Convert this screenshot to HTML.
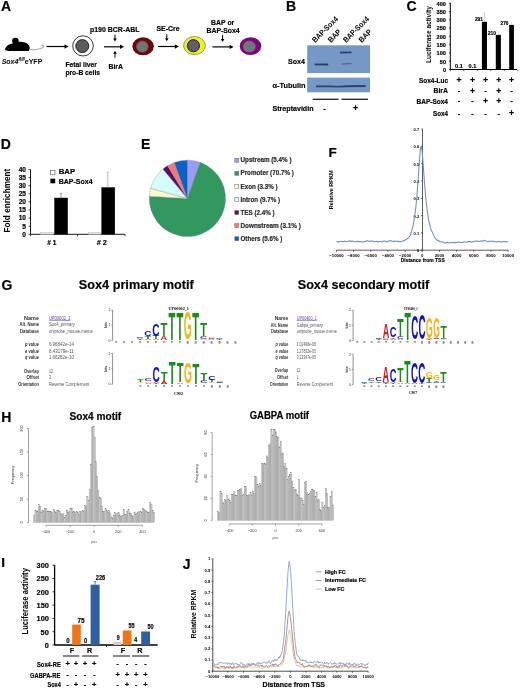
<!DOCTYPE html>
<html><head><meta charset="utf-8"><title>Figure</title>
<style>html,body{margin:0;padding:0;background:#fff;} svg{display:block;filter:blur(0.3px);} text{font-family:"Liberation Sans", sans-serif;}</style>
</head><body>
<svg width="520" height="689" viewBox="0 0 520 689">
<defs><filter id="bb" x="-10%" y="-50%" width="120%" height="200%"><feGaussianBlur stdDeviation="0.35"/></filter><radialGradient id="pg"><stop offset="0" stop-color="#5a7e72"/><stop offset="0.7" stop-color="#6a7a74"/><stop offset="1" stop-color="#9a6a9a"/></radialGradient></defs>
<rect x="0" y="0" width="520" height="689" fill="#fff"/>
<text x="1" y="11" font-size="14" font-weight="bold" fill="#000" stroke="#000" stroke-width="0.18" text-anchor="start">A</text>
<path d="M5,49.3 C5.8,46.6 8.8,44.2 12.3,43.6 C14.8,42.2 18.8,41.6 22.5,41.9 C27,42.3 29.8,45 29.8,48.2 C29.8,50.2 28.8,51 27,51 L9,51 C7,51 5.2,50.6 5,49.3 Z" fill="#000" stroke="none" stroke-width="1"/>
<ellipse cx="15.4" cy="40.9" rx="3.3" ry="3.1" fill="#000"/>
<circle cx="8.6" cy="48.2" r="0.45" fill="#777"/>
<path d="M29.3,49.4 C33,50.2 37.5,49.6 40.5,48.6 C42.8,47.8 44.2,46.8 43.6,45.6 C43,44.6 41.6,45 41.8,46" fill="none" stroke="#b0b0b0" stroke-width="1.1"/>
<text x="1.7" y="64" font-size="7.8" fill="#000" textLength="40.6" lengthAdjust="spacingAndGlyphs"><tspan font-weight="bold" font-style="italic">Sox4</tspan><tspan font-size="4.8" dy="-3.3" font-weight="bold" font-style="italic">fl/fl</tspan><tspan dy="3.3" font-weight="bold">eYFP</tspan></text>
<line x1="46.5" y1="46.5" x2="65.5" y2="46.5" stroke="#000" stroke-width="1.2"/>
<path d="M64.5,44.3 L68.5,46.5 L64.5,48.7 Z" fill="#000" stroke="none" stroke-width="1"/>
<ellipse cx="83" cy="45.9" rx="10.3" ry="10.1" fill="#fff" stroke="#222" stroke-width="0.9"/>
<ellipse cx="82.3" cy="46.1" rx="6.5" ry="6.5" fill="#5c5c5c" stroke="#1a1a1a" stroke-width="0.9"/>
<text x="65.4" y="67" font-size="7.8" font-weight="bold" fill="#000" stroke="#000" stroke-width="0.18" text-anchor="start" textLength="31.5" lengthAdjust="spacingAndGlyphs">Fetal liver</text>
<text x="65.4" y="75" font-size="7.8" font-weight="bold" fill="#000" stroke="#000" stroke-width="0.18" text-anchor="start" textLength="34.6" lengthAdjust="spacingAndGlyphs">pro-B cells</text>
<line x1="104" y1="46.8" x2="121" y2="46.8" stroke="#000" stroke-width="1.2"/>
<path d="M120,44.599999999999994 L124,46.8 L120,49.0 Z" fill="#000" stroke="none" stroke-width="1"/>
<text x="90" y="32.3" font-size="7.8" font-weight="bold" fill="#000" stroke="#000" stroke-width="0.18" text-anchor="start" textLength="49.5" lengthAdjust="spacingAndGlyphs">p190 BCR-ABL</text>
<line x1="115" y1="34.6" x2="115" y2="39.0" stroke="#000" stroke-width="1"/>
<path d="M113.2,38.5 L115,41.5 L116.8,38.5 Z" fill="#000" stroke="none" stroke-width="1"/>
<line x1="115" y1="57.7" x2="115" y2="53.3" stroke="#000" stroke-width="1"/>
<path d="M113.2,53.8 L115,50.8 L116.8,53.8 Z" fill="#000" stroke="none" stroke-width="1"/>
<text x="108.5" y="69" font-size="7.8" font-weight="bold" fill="#000" stroke="#000" stroke-width="0.18" text-anchor="start" textLength="14.5" lengthAdjust="spacingAndGlyphs">BirA</text>
<ellipse cx="143.1" cy="46.3" rx="10.75" ry="9" fill="#6a0808"/>
<ellipse cx="142.3" cy="46.6" rx="5.8" ry="5.6" fill="#6f7575" stroke="#8a5a5a" stroke-width="0.6"/>
<text x="156.5" y="31.2" font-size="7.8" font-weight="bold" fill="#000" stroke="#000" stroke-width="0.18" text-anchor="start" textLength="23.1" lengthAdjust="spacingAndGlyphs">SE-Cre</text>
<line x1="166.8" y1="34.2" x2="166.8" y2="38.7" stroke="#000" stroke-width="1"/>
<path d="M165.0,38.2 L166.8,41.2 L168.60000000000002,38.2 Z" fill="#000" stroke="none" stroke-width="1"/>
<line x1="158" y1="46.5" x2="175.8" y2="46.5" stroke="#000" stroke-width="1.2"/>
<path d="M174.8,44.3 L178.8,46.5 L174.8,48.7 Z" fill="#000" stroke="none" stroke-width="1"/>
<ellipse cx="194.5" cy="45.6" rx="10.9" ry="9.1" fill="#f0f025" stroke="#555" stroke-width="0.6"/>
<ellipse cx="193.4" cy="45.75" rx="6.1" ry="6.1" fill="#5f5f6c" stroke="#111" stroke-width="0.9"/>
<text x="211" y="25.2" font-size="7.8" font-weight="bold" fill="#000" stroke="#000" stroke-width="0.18" text-anchor="start" textLength="23.3" lengthAdjust="spacingAndGlyphs">BAP or</text>
<text x="206.5" y="32.8" font-size="7.8" font-weight="bold" fill="#000" stroke="#000" stroke-width="0.18" text-anchor="start" textLength="33.2" lengthAdjust="spacingAndGlyphs">BAP-Sox4</text>
<line x1="222.6" y1="34.9" x2="222.6" y2="39.4" stroke="#000" stroke-width="1"/>
<path d="M220.79999999999998,38.9 L222.6,41.9 L224.4,38.9 Z" fill="#000" stroke="none" stroke-width="1"/>
<line x1="212.4" y1="46.9" x2="230.6" y2="46.9" stroke="#000" stroke-width="1.2"/>
<path d="M229.6,44.699999999999996 L233.6,46.9 L229.6,49.1 Z" fill="#000" stroke="none" stroke-width="1"/>
<ellipse cx="250.5" cy="46.15" rx="10.75" ry="8.95" fill="#760a78"/>
<ellipse cx="249.3" cy="46.6" rx="6" ry="5.5" fill="url(#pg)" stroke="#9a5a9a" stroke-width="0.6"/>
<text x="286" y="10.6" font-size="14" font-weight="bold" fill="#000" stroke="#000" stroke-width="0.18" text-anchor="start">B</text>
<text transform="translate(315.3,43) rotate(-45)" font-size="7.8" font-weight="bold" fill="#000" textLength="33" lengthAdjust="spacingAndGlyphs">BAP-Sox4</text>
<text transform="translate(331.1,43) rotate(-45)" font-size="7.8" font-weight="bold" fill="#000" textLength="15" lengthAdjust="spacingAndGlyphs">BAP</text>
<text transform="translate(346.3,43) rotate(-45)" font-size="7.8" font-weight="bold" fill="#000" textLength="33" lengthAdjust="spacingAndGlyphs">BAP-Sox4</text>
<text transform="translate(361.7,43) rotate(-45)" font-size="7.8" font-weight="bold" fill="#000" textLength="15" lengthAdjust="spacingAndGlyphs">BAP</text>
<rect x="307.2" y="45.3" width="62.8" height="27.8" fill="#7598c7"/>
<rect x="307.2" y="77.6" width="62.8" height="14.7" fill="#7598c7"/>
<text x="305" y="63.8" font-size="8" font-weight="bold" fill="#000" stroke="#000" stroke-width="0.18" text-anchor="end" textLength="17" lengthAdjust="spacingAndGlyphs">Sox4</text>
<text x="305.5" y="88" font-size="8" font-weight="bold" fill="#000" stroke="#000" stroke-width="0.18" text-anchor="end" textLength="33" lengthAdjust="spacingAndGlyphs">&#945;-Tubulin</text>
<g filter="url(#bb)">
<path d="M314.7,63.5 L328.2,63.6 L328.2,65.4 L314.7,65.3 Z" fill="#223150" opacity="0.9"/>
<path d="M340,51.8 L351.4,51.5 L351.4,53.3 L340,53.5 Z" fill="#223150" opacity="0.85"/>
<path d="M341,63.4 L351.4,63.0 L351.4,64.3 L341,64.6 Z" fill="#2a3c5c" opacity="0.55"/>
<path d="M316,85.6 L330,85.4 L338,85.9 L346,85.3 L365.6,85.0 L365.6,86.9 L346,87.2 L338,87.6 L330,87.2 L316,87.3 Z" fill="#26344f" opacity="0.85"/>
</g>
<line x1="312.7" y1="99.3" x2="338.6" y2="99.3" stroke="#222" stroke-width="1.3"/>
<line x1="341.5" y1="99.3" x2="368" y2="99.3" stroke="#222" stroke-width="1.3"/>
<text x="313.5" y="110.8" font-size="8" font-weight="bold" fill="#000" stroke="#000" stroke-width="0.18" text-anchor="end" textLength="41" lengthAdjust="spacingAndGlyphs">Streptavidin</text>
<text x="324.5" y="110.5" font-size="8" font-weight="bold" fill="#000" stroke="#000" stroke-width="0.18" text-anchor="middle">-</text>
<text x="355.6" y="110.8" font-size="8.6" font-weight="bold" fill="#000" stroke="#000" stroke-width="0.18" text-anchor="middle">+</text>
<text x="406.5" y="11" font-size="14" font-weight="bold" fill="#000" stroke="#000" stroke-width="0.18" text-anchor="start">C</text>
<line x1="450.3" y1="2.8" x2="450.3" y2="69.5" stroke="#000" stroke-width="1.0"/>
<line x1="450.3" y1="69.5" x2="517" y2="69.5" stroke="#000" stroke-width="1.2"/>
<line x1="449" y1="69.5" x2="450.3" y2="69.5" stroke="#000" stroke-width="0.7"/>
<text x="446" y="71.8" font-size="5.7" font-weight="bold" fill="#000" stroke="#000" stroke-width="0.18" text-anchor="end" textLength="3" lengthAdjust="spacingAndGlyphs">0</text>
<line x1="449" y1="61.22" x2="450.3" y2="61.22" stroke="#000" stroke-width="0.7"/>
<text x="446" y="63.519999999999996" font-size="5.7" font-weight="bold" fill="#000" stroke="#000" stroke-width="0.18" text-anchor="end" textLength="6.2" lengthAdjust="spacingAndGlyphs">50</text>
<line x1="449" y1="52.94" x2="450.3" y2="52.94" stroke="#000" stroke-width="0.7"/>
<text x="446" y="55.239999999999995" font-size="5.7" font-weight="bold" fill="#000" stroke="#000" stroke-width="0.18" text-anchor="end" textLength="9.4" lengthAdjust="spacingAndGlyphs">100</text>
<line x1="449" y1="44.660000000000004" x2="450.3" y2="44.660000000000004" stroke="#000" stroke-width="0.7"/>
<text x="446" y="46.96" font-size="5.7" font-weight="bold" fill="#000" stroke="#000" stroke-width="0.18" text-anchor="end" textLength="9.4" lengthAdjust="spacingAndGlyphs">150</text>
<line x1="449" y1="36.38" x2="450.3" y2="36.38" stroke="#000" stroke-width="0.7"/>
<text x="446" y="38.68" font-size="5.7" font-weight="bold" fill="#000" stroke="#000" stroke-width="0.18" text-anchor="end" textLength="9.4" lengthAdjust="spacingAndGlyphs">200</text>
<line x1="449" y1="28.1" x2="450.3" y2="28.1" stroke="#000" stroke-width="0.7"/>
<text x="446" y="30.400000000000002" font-size="5.7" font-weight="bold" fill="#000" stroke="#000" stroke-width="0.18" text-anchor="end" textLength="9.4" lengthAdjust="spacingAndGlyphs">250</text>
<line x1="449" y1="19.820000000000007" x2="450.3" y2="19.820000000000007" stroke="#000" stroke-width="0.7"/>
<text x="446" y="22.120000000000008" font-size="5.7" font-weight="bold" fill="#000" stroke="#000" stroke-width="0.18" text-anchor="end" textLength="9.4" lengthAdjust="spacingAndGlyphs">300</text>
<line x1="449" y1="11.540000000000006" x2="450.3" y2="11.540000000000006" stroke="#000" stroke-width="0.7"/>
<text x="446" y="13.840000000000007" font-size="5.7" font-weight="bold" fill="#000" stroke="#000" stroke-width="0.18" text-anchor="end" textLength="9.4" lengthAdjust="spacingAndGlyphs">350</text>
<line x1="449" y1="3.260000000000005" x2="450.3" y2="3.260000000000005" stroke="#000" stroke-width="0.7"/>
<text x="446" y="5.560000000000005" font-size="5.7" font-weight="bold" fill="#000" stroke="#000" stroke-width="0.18" text-anchor="end" textLength="9.4" lengthAdjust="spacingAndGlyphs">400</text>
<text transform="translate(430.8,34.6) rotate(-90)" font-size="6.8" font-weight="bold" fill="#000" text-anchor="middle" textLength="56.9" lengthAdjust="spacingAndGlyphs">Luciferase activity</text>
<rect x="481.9" y="21.8" width="5.100000000000023" height="47.7" fill="#000"/>
<text x="474.9" y="20.900000000000002" font-size="5.9" font-weight="bold" fill="#000" stroke="#000" stroke-width="0.18" text-anchor="start" textLength="8" lengthAdjust="spacingAndGlyphs">291</text>
<rect x="495.8" y="34.9" width="5.099999999999966" height="34.6" fill="#000"/>
<text x="487.7" y="34.8" font-size="5.9" font-weight="bold" fill="#000" stroke="#000" stroke-width="0.18" text-anchor="start" textLength="8.2" lengthAdjust="spacingAndGlyphs">210</text>
<rect x="509.2" y="24.9" width="4.699999999999989" height="44.6" fill="#000"/>
<text x="500.5" y="24.799999999999997" font-size="5.9" font-weight="bold" fill="#000" stroke="#000" stroke-width="0.18" text-anchor="start" textLength="8" lengthAdjust="spacingAndGlyphs">270</text>
<line x1="484.4" y1="12.4" x2="484.4" y2="21.8" stroke="#aaa" stroke-width="0.6"/>
<line x1="498.3" y1="31.3" x2="498.3" y2="34.9" stroke="#bbb" stroke-width="0.6"/>
<line x1="511.5" y1="22.2" x2="511.5" y2="24.9" stroke="#bbb" stroke-width="0.6"/>
<text x="455.1" y="67.6" font-size="5.8" font-weight="bold" fill="#000" stroke="#000" stroke-width="0.18" text-anchor="start" textLength="7.7" lengthAdjust="spacingAndGlyphs">0.1</text>
<text x="468.6" y="67.6" font-size="5.8" font-weight="bold" fill="#000" stroke="#000" stroke-width="0.18" text-anchor="start" textLength="7.7" lengthAdjust="spacingAndGlyphs">0.1</text>
<line x1="450.3" y1="69.5" x2="450.3" y2="71.2" stroke="#000" stroke-width="0.6"/>
<line x1="463.8" y1="69.5" x2="463.8" y2="71.2" stroke="#000" stroke-width="0.6"/>
<line x1="477.3" y1="69.5" x2="477.3" y2="71.2" stroke="#000" stroke-width="0.6"/>
<line x1="490.8" y1="69.5" x2="490.8" y2="71.2" stroke="#000" stroke-width="0.6"/>
<line x1="504.3" y1="69.5" x2="504.3" y2="71.2" stroke="#000" stroke-width="0.6"/>
<line x1="517.8" y1="69.5" x2="517.8" y2="71.2" stroke="#000" stroke-width="0.6"/>
<text x="448" y="82.8" font-size="7.3" font-weight="bold" fill="#000" stroke="#000" stroke-width="0.18" text-anchor="end" textLength="29" lengthAdjust="spacingAndGlyphs">Sox4-Luc</text>
<text x="459" y="83.1" font-size="8.6" font-weight="bold" fill="#000" stroke="#000" stroke-width="0.18" text-anchor="middle">+</text>
<text x="472.4" y="83.1" font-size="8.6" font-weight="bold" fill="#000" stroke="#000" stroke-width="0.18" text-anchor="middle">+</text>
<text x="485.5" y="83.1" font-size="8.6" font-weight="bold" fill="#000" stroke="#000" stroke-width="0.18" text-anchor="middle">+</text>
<text x="498.8" y="83.1" font-size="8.6" font-weight="bold" fill="#000" stroke="#000" stroke-width="0.18" text-anchor="middle">+</text>
<text x="511.5" y="83.1" font-size="8.6" font-weight="bold" fill="#000" stroke="#000" stroke-width="0.18" text-anchor="middle">+</text>
<text x="448" y="93.3" font-size="7.3" font-weight="bold" fill="#000" stroke="#000" stroke-width="0.18" text-anchor="end" textLength="14.5" lengthAdjust="spacingAndGlyphs">BirA</text>
<text x="459" y="92.8" font-size="7.6" font-weight="bold" fill="#000" stroke="#000" stroke-width="0.18" text-anchor="middle">-</text>
<text x="472.4" y="93.6" font-size="8.6" font-weight="bold" fill="#000" stroke="#000" stroke-width="0.18" text-anchor="middle">+</text>
<text x="485.5" y="92.8" font-size="7.6" font-weight="bold" fill="#000" stroke="#000" stroke-width="0.18" text-anchor="middle">-</text>
<text x="498.8" y="93.6" font-size="8.6" font-weight="bold" fill="#000" stroke="#000" stroke-width="0.18" text-anchor="middle">+</text>
<text x="511.5" y="92.8" font-size="7.6" font-weight="bold" fill="#000" stroke="#000" stroke-width="0.18" text-anchor="middle">-</text>
<text x="448" y="103.8" font-size="7.3" font-weight="bold" fill="#000" stroke="#000" stroke-width="0.18" text-anchor="end" textLength="31.5" lengthAdjust="spacingAndGlyphs">BAP-Sox4</text>
<text x="459" y="103.3" font-size="7.6" font-weight="bold" fill="#000" stroke="#000" stroke-width="0.18" text-anchor="middle">-</text>
<text x="472.4" y="103.3" font-size="7.6" font-weight="bold" fill="#000" stroke="#000" stroke-width="0.18" text-anchor="middle">-</text>
<text x="485.5" y="104.1" font-size="8.6" font-weight="bold" fill="#000" stroke="#000" stroke-width="0.18" text-anchor="middle">+</text>
<text x="498.8" y="104.1" font-size="8.6" font-weight="bold" fill="#000" stroke="#000" stroke-width="0.18" text-anchor="middle">+</text>
<text x="511.5" y="103.3" font-size="7.6" font-weight="bold" fill="#000" stroke="#000" stroke-width="0.18" text-anchor="middle">-</text>
<text x="448" y="116" font-size="7.3" font-weight="bold" fill="#000" stroke="#000" stroke-width="0.18" text-anchor="end" textLength="15" lengthAdjust="spacingAndGlyphs">Sox4</text>
<text x="459" y="115.5" font-size="7.6" font-weight="bold" fill="#000" stroke="#000" stroke-width="0.18" text-anchor="middle">-</text>
<text x="472.4" y="115.5" font-size="7.6" font-weight="bold" fill="#000" stroke="#000" stroke-width="0.18" text-anchor="middle">-</text>
<text x="485.5" y="115.5" font-size="7.6" font-weight="bold" fill="#000" stroke="#000" stroke-width="0.18" text-anchor="middle">-</text>
<text x="498.8" y="115.5" font-size="7.6" font-weight="bold" fill="#000" stroke="#000" stroke-width="0.18" text-anchor="middle">-</text>
<text x="511.5" y="116.3" font-size="8.6" font-weight="bold" fill="#000" stroke="#000" stroke-width="0.18" text-anchor="middle">+</text>
<text x="0.7" y="148.8" font-size="14" font-weight="bold" fill="#000" stroke="#000" stroke-width="0.18" text-anchor="start">D</text>
<line x1="30.5" y1="169.5" x2="30.5" y2="234.3" stroke="#000" stroke-width="0.9"/>
<line x1="30.5" y1="234.3" x2="125" y2="234.3" stroke="#000" stroke-width="0.9"/>
<line x1="28.5" y1="234.3" x2="30.5" y2="234.3" stroke="#000" stroke-width="0.7"/>
<text x="26" y="236.60000000000002" font-size="6.6" font-weight="bold" fill="#000" stroke="#000" stroke-width="0.18" text-anchor="end">0</text>
<line x1="28.5" y1="226.20000000000002" x2="30.5" y2="226.20000000000002" stroke="#000" stroke-width="0.7"/>
<text x="26" y="228.50000000000003" font-size="6.6" font-weight="bold" fill="#000" stroke="#000" stroke-width="0.18" text-anchor="end">5</text>
<line x1="28.5" y1="218.10000000000002" x2="30.5" y2="218.10000000000002" stroke="#000" stroke-width="0.7"/>
<text x="26" y="220.40000000000003" font-size="6.6" font-weight="bold" fill="#000" stroke="#000" stroke-width="0.18" text-anchor="end">10</text>
<line x1="28.5" y1="210.0" x2="30.5" y2="210.0" stroke="#000" stroke-width="0.7"/>
<text x="26" y="212.3" font-size="6.6" font-weight="bold" fill="#000" stroke="#000" stroke-width="0.18" text-anchor="end">15</text>
<line x1="28.5" y1="201.9" x2="30.5" y2="201.9" stroke="#000" stroke-width="0.7"/>
<text x="26" y="204.20000000000002" font-size="6.6" font-weight="bold" fill="#000" stroke="#000" stroke-width="0.18" text-anchor="end">20</text>
<line x1="28.5" y1="193.8" x2="30.5" y2="193.8" stroke="#000" stroke-width="0.7"/>
<text x="26" y="196.10000000000002" font-size="6.6" font-weight="bold" fill="#000" stroke="#000" stroke-width="0.18" text-anchor="end">25</text>
<line x1="28.5" y1="185.70000000000002" x2="30.5" y2="185.70000000000002" stroke="#000" stroke-width="0.7"/>
<text x="26" y="188.00000000000003" font-size="6.6" font-weight="bold" fill="#000" stroke="#000" stroke-width="0.18" text-anchor="end">30</text>
<line x1="28.5" y1="177.60000000000002" x2="30.5" y2="177.60000000000002" stroke="#000" stroke-width="0.7"/>
<text x="26" y="179.90000000000003" font-size="6.6" font-weight="bold" fill="#000" stroke="#000" stroke-width="0.18" text-anchor="end">35</text>
<line x1="28.5" y1="169.5" x2="30.5" y2="169.5" stroke="#000" stroke-width="0.7"/>
<text x="26" y="171.8" font-size="6.6" font-weight="bold" fill="#000" stroke="#000" stroke-width="0.18" text-anchor="end">40</text>
<line x1="30.5" y1="234.3" x2="30.5" y2="236.3" stroke="#000" stroke-width="0.7"/>
<line x1="77.5" y1="234.3" x2="77.5" y2="236.3" stroke="#000" stroke-width="0.7"/>
<line x1="125" y1="234.3" x2="125" y2="236.3" stroke="#000" stroke-width="0.7"/>
<text transform="translate(9.9,200.6) rotate(-90)" font-size="8.6" font-weight="bold" fill="#000" text-anchor="middle" textLength="63.6" lengthAdjust="spacingAndGlyphs">Fold enrichment</text>
<rect x="40.2" y="232.3" width="13.1" height="2.0" fill="#e6e6e6" stroke="#b4b4b4" stroke-width="0.4"/>
<rect x="88.6" y="232.3" width="12.2" height="2.0" fill="#e6e6e6" stroke="#b4b4b4" stroke-width="0.4"/>
<rect x="54.3" y="197.8" width="13.5" height="36.5" fill="#000"/>
<rect x="101.4" y="187.3" width="13.5" height="47.0" fill="#000"/>
<line x1="61" y1="193.3" x2="61" y2="197.8" stroke="#777" stroke-width="0.8"/>
<line x1="59.8" y1="193.3" x2="62.2" y2="193.3" stroke="#777" stroke-width="0.6"/>
<line x1="107.8" y1="172.1" x2="107.8" y2="187.3" stroke="#aaa" stroke-width="0.8"/>
<line x1="106.6" y1="172.1" x2="109" y2="172.1" stroke="#aaa" stroke-width="0.6"/>
<rect x="50.6" y="170.4" width="4.4" height="4.4" fill="#fff" stroke="#555" stroke-width="0.6"/>
<rect x="50.4" y="178.7" width="4.8" height="4.6" fill="#000"/>
<text x="58.7" y="174.3" font-size="8" font-weight="bold" fill="#000" stroke="#000" stroke-width="0.18" text-anchor="start" textLength="16.5" lengthAdjust="spacingAndGlyphs">BAP</text>
<text x="58.7" y="183.6" font-size="8" font-weight="bold" fill="#000" stroke="#000" stroke-width="0.18" text-anchor="start" textLength="34" lengthAdjust="spacingAndGlyphs">BAP-Sox4</text>
<text x="47.2" y="245" font-size="6.8" font-weight="bold" fill="#000" stroke="#000" stroke-width="0.18" text-anchor="start" textLength="9.1" lengthAdjust="spacingAndGlyphs"># 1</text>
<text x="96.7" y="245" font-size="6.8" font-weight="bold" fill="#000" stroke="#000" stroke-width="0.18" text-anchor="start" textLength="10.1" lengthAdjust="spacingAndGlyphs"># 2</text>
<text x="141" y="149.2" font-size="14" font-weight="bold" fill="#000" stroke="#000" stroke-width="0.18" text-anchor="start">E</text>
<path d="M187.4,198.4 L187.40,160.20 A38.2,38.2 0 0 1 200.09,162.37 Z" fill="#9c9cf8" stroke="#7a8a9a" stroke-width="0.35"/>
<path d="M187.4,198.4 L200.09,162.37 A38.2,38.2 0 1 1 149.27,196.13 Z" fill="#33985f" stroke="#7a8a9a" stroke-width="0.35"/>
<path d="M187.4,198.4 L149.27,196.13 A38.2,38.2 0 0 1 150.55,188.34 Z" fill="#fbfbcb" stroke="#7a8a9a" stroke-width="0.35"/>
<path d="M187.4,198.4 L150.55,188.34 A38.2,38.2 0 0 1 162.91,169.09 Z" fill="#d5fbfb" stroke="#7a8a9a" stroke-width="0.35"/>
<path d="M187.4,198.4 L162.91,169.09 A38.2,38.2 0 0 1 167.58,165.74 Z" fill="#5e0a66" stroke="#7a8a9a" stroke-width="0.35"/>
<path d="M187.4,198.4 L167.58,165.74 A38.2,38.2 0 0 1 174.26,162.53 Z" fill="#f47a78" stroke="#7a8a9a" stroke-width="0.35"/>
<path d="M187.4,198.4 L174.26,162.53 A38.2,38.2 0 0 1 187.40,160.20 Z" fill="#0a5fc8" stroke="#7a8a9a" stroke-width="0.35"/>
<rect x="234.8" y="158.3" width="4" height="3.9" fill="#9c9cf8" stroke="#666" stroke-width="0.5"/>
<text x="240.5" y="162.4" font-size="6.3" font-weight="bold" fill="#2a2a2a" stroke="#2a2a2a" stroke-width="0.18" text-anchor="start" textLength="51" lengthAdjust="spacingAndGlyphs">Upstream (5.4% )</text>
<rect x="234.8" y="171.38000000000002" width="4" height="3.9" fill="#33985f" stroke="#666" stroke-width="0.5"/>
<text x="240.5" y="175.48000000000002" font-size="6.3" font-weight="bold" fill="#2a2a2a" stroke="#2a2a2a" stroke-width="0.18" text-anchor="start" textLength="53.3" lengthAdjust="spacingAndGlyphs">Promoter (70.7% )</text>
<rect x="234.8" y="184.46" width="4" height="3.9" fill="#fbfbcb" stroke="#666" stroke-width="0.5"/>
<text x="240.5" y="188.56" font-size="6.3" font-weight="bold" fill="#2a2a2a" stroke="#2a2a2a" stroke-width="0.18" text-anchor="start" textLength="37.2" lengthAdjust="spacingAndGlyphs">Exon (3.3% )</text>
<rect x="234.8" y="197.54000000000002" width="4" height="3.9" fill="#d5fbfb" stroke="#666" stroke-width="0.5"/>
<text x="240.5" y="201.64000000000001" font-size="6.3" font-weight="bold" fill="#2a2a2a" stroke="#2a2a2a" stroke-width="0.18" text-anchor="start" textLength="39.5" lengthAdjust="spacingAndGlyphs">Intron (9.7% )</text>
<rect x="234.8" y="210.62" width="4" height="3.9" fill="#5e0a66" stroke="#666" stroke-width="0.5"/>
<text x="240.5" y="214.72" font-size="6.3" font-weight="bold" fill="#2a2a2a" stroke="#2a2a2a" stroke-width="0.18" text-anchor="start" textLength="34.1" lengthAdjust="spacingAndGlyphs">TES (2.4% )</text>
<rect x="234.8" y="223.70000000000002" width="4" height="3.9" fill="#f47a78" stroke="#666" stroke-width="0.5"/>
<text x="240.5" y="227.8" font-size="6.3" font-weight="bold" fill="#2a2a2a" stroke="#2a2a2a" stroke-width="0.18" text-anchor="start" textLength="60.3" lengthAdjust="spacingAndGlyphs">Downstream (3.1% )</text>
<rect x="234.8" y="236.78" width="4" height="3.9" fill="#0a5fc8" stroke="#666" stroke-width="0.5"/>
<text x="240.5" y="240.88" font-size="6.3" font-weight="bold" fill="#2a2a2a" stroke="#2a2a2a" stroke-width="0.18" text-anchor="start" textLength="41.8" lengthAdjust="spacingAndGlyphs">Others (5.6% )</text>
<text x="328.5" y="156.6" font-size="13.5" font-weight="bold" fill="#000" stroke="#000" stroke-width="0.18" text-anchor="start">F</text>
<text transform="translate(333,189.9) rotate(-90)" font-size="5.2" font-weight="bold" fill="#000" text-anchor="middle" textLength="38.7" lengthAdjust="spacingAndGlyphs">Relative RPKM</text>
<line x1="422.5" y1="129.2" x2="422.5" y2="250.2" stroke="#333" stroke-width="0.8"/>
<line x1="336.5" y1="250.2" x2="508.3" y2="250.2" stroke="#333" stroke-width="0.8"/>
<line x1="421" y1="250.2" x2="422.5" y2="250.2" stroke="#000" stroke-width="0.6"/>
<text x="419.2" y="252.2" font-size="4.2" font-weight="bold" fill="#000" text-anchor="end">0</text>
<line x1="421" y1="232.89" x2="422.5" y2="232.89" stroke="#000" stroke-width="0.6"/>
<text x="419.2" y="234.89" font-size="4.2" font-weight="bold" fill="#000" text-anchor="end" textLength="5.6" lengthAdjust="spacingAndGlyphs">0.1</text>
<line x1="421" y1="215.57999999999998" x2="422.5" y2="215.57999999999998" stroke="#000" stroke-width="0.6"/>
<text x="419.2" y="217.57999999999998" font-size="4.2" font-weight="bold" fill="#000" text-anchor="end" textLength="5.6" lengthAdjust="spacingAndGlyphs">0.2</text>
<line x1="421" y1="198.26999999999998" x2="422.5" y2="198.26999999999998" stroke="#000" stroke-width="0.6"/>
<text x="419.2" y="200.26999999999998" font-size="4.2" font-weight="bold" fill="#000" text-anchor="end" textLength="5.6" lengthAdjust="spacingAndGlyphs">0.3</text>
<line x1="421" y1="180.95999999999998" x2="422.5" y2="180.95999999999998" stroke="#000" stroke-width="0.6"/>
<text x="419.2" y="182.95999999999998" font-size="4.2" font-weight="bold" fill="#000" text-anchor="end" textLength="5.6" lengthAdjust="spacingAndGlyphs">0.4</text>
<line x1="421" y1="163.64999999999998" x2="422.5" y2="163.64999999999998" stroke="#000" stroke-width="0.6"/>
<text x="419.2" y="165.64999999999998" font-size="4.2" font-weight="bold" fill="#000" text-anchor="end" textLength="5.6" lengthAdjust="spacingAndGlyphs">0.5</text>
<line x1="421" y1="146.33999999999997" x2="422.5" y2="146.33999999999997" stroke="#000" stroke-width="0.6"/>
<text x="419.2" y="148.33999999999997" font-size="4.2" font-weight="bold" fill="#000" text-anchor="end" textLength="5.6" lengthAdjust="spacingAndGlyphs">0.6</text>
<line x1="421" y1="129.02999999999997" x2="422.5" y2="129.02999999999997" stroke="#000" stroke-width="0.6"/>
<text x="419.2" y="131.02999999999997" font-size="4.2" font-weight="bold" fill="#000" text-anchor="end" textLength="5.6" lengthAdjust="spacingAndGlyphs">0.7</text>
<line x1="336.5" y1="250.2" x2="336.5" y2="251.8" stroke="#000" stroke-width="0.6"/>
<text x="336.5" y="256.8" font-size="4.3" font-weight="bold" fill="#000" text-anchor="middle">&#8722;10000</text>
<line x1="353.66" y1="250.2" x2="353.66" y2="251.8" stroke="#000" stroke-width="0.6"/>
<text x="353.66" y="256.8" font-size="4.3" font-weight="bold" fill="#000" text-anchor="middle">&#8722;8000</text>
<line x1="370.82" y1="250.2" x2="370.82" y2="251.8" stroke="#000" stroke-width="0.6"/>
<text x="370.82" y="256.8" font-size="4.3" font-weight="bold" fill="#000" text-anchor="middle">&#8722;6000</text>
<line x1="387.98" y1="250.2" x2="387.98" y2="251.8" stroke="#000" stroke-width="0.6"/>
<text x="387.98" y="256.8" font-size="4.3" font-weight="bold" fill="#000" text-anchor="middle">&#8722;4000</text>
<line x1="405.14" y1="250.2" x2="405.14" y2="251.8" stroke="#000" stroke-width="0.6"/>
<text x="405.14" y="256.8" font-size="4.3" font-weight="bold" fill="#000" text-anchor="middle">&#8722;2000</text>
<line x1="422.3" y1="250.2" x2="422.3" y2="251.8" stroke="#000" stroke-width="0.6"/>
<text x="422.3" y="256.8" font-size="4.3" font-weight="bold" fill="#000" text-anchor="middle">0</text>
<line x1="439.46000000000004" y1="250.2" x2="439.46000000000004" y2="251.8" stroke="#000" stroke-width="0.6"/>
<text x="439.46000000000004" y="256.8" font-size="4.3" font-weight="bold" fill="#000" text-anchor="middle">2000</text>
<line x1="456.62" y1="250.2" x2="456.62" y2="251.8" stroke="#000" stroke-width="0.6"/>
<text x="456.62" y="256.8" font-size="4.3" font-weight="bold" fill="#000" text-anchor="middle">4000</text>
<line x1="473.78000000000003" y1="250.2" x2="473.78000000000003" y2="251.8" stroke="#000" stroke-width="0.6"/>
<text x="473.78000000000003" y="256.8" font-size="4.3" font-weight="bold" fill="#000" text-anchor="middle">6000</text>
<line x1="490.94" y1="250.2" x2="490.94" y2="251.8" stroke="#000" stroke-width="0.6"/>
<text x="490.94" y="256.8" font-size="4.3" font-weight="bold" fill="#000" text-anchor="middle">8000</text>
<line x1="508.1" y1="250.2" x2="508.1" y2="251.8" stroke="#000" stroke-width="0.6"/>
<text x="508.1" y="256.8" font-size="4.3" font-weight="bold" fill="#000" text-anchor="middle">10000</text>
<text x="422.7" y="262" font-size="5.6" font-weight="bold" fill="#000" stroke="#000" stroke-width="0.18" text-anchor="middle" textLength="44" lengthAdjust="spacingAndGlyphs">Distance from TSS</text>
<path d="M336.50,241.51 L336.93,241.70 L337.36,241.51 L337.79,241.91 L338.22,241.84 L338.64,242.19 L339.07,241.85 L339.50,241.73 L339.93,241.41 L340.36,241.50 L340.79,241.40 L341.22,241.45 L341.65,241.57 L342.08,241.52 L342.51,241.74 L342.94,241.75 L343.36,241.57 L343.79,241.54 L344.22,241.60 L344.65,241.16 L345.08,241.20 L345.51,241.35 L345.94,241.34 L346.37,241.47 L346.80,241.55 L347.23,241.62 L347.65,241.22 L348.08,241.27 L348.51,241.29 L348.94,241.21 L349.37,240.88 L349.80,241.04 L350.23,241.25 L350.66,240.84 L351.09,241.24 L351.51,241.38 L351.94,241.30 L352.37,240.93 L352.80,241.23 L353.23,241.77 L353.66,241.64 L354.09,241.76 L354.52,241.83 L354.95,241.74 L355.38,241.70 L355.81,241.66 L356.23,241.76 L356.66,241.52 L357.09,241.28 L357.52,241.35 L357.95,241.51 L358.38,241.41 L358.81,241.38 L359.24,241.65 L359.67,241.76 L360.10,241.57 L360.52,241.63 L360.95,241.72 L361.38,241.69 L361.81,241.71 L362.24,241.73 L362.67,242.10 L363.10,241.72 L363.53,241.69 L363.96,241.87 L364.38,241.67 L364.81,241.62 L365.24,241.64 L365.67,241.45 L366.10,241.06 L366.53,241.05 L366.96,240.85 L367.39,240.56 L367.82,240.92 L368.25,241.13 L368.68,241.06 L369.10,241.47 L369.53,241.54 L369.96,241.30 L370.39,241.15 L370.82,241.10 L371.25,241.53 L371.68,241.08 L372.11,241.04 L372.54,240.97 L372.97,240.95 L373.39,241.36 L373.82,241.65 L374.25,241.85 L374.68,241.42 L375.11,241.58 L375.54,241.60 L375.97,241.62 L376.40,241.47 L376.83,241.36 L377.25,241.31 L377.68,241.56 L378.11,242.12 L378.54,241.97 L378.97,241.82 L379.40,241.51 L379.83,241.50 L380.26,241.58 L380.69,241.46 L381.12,241.73 L381.55,241.86 L381.97,241.96 L382.40,241.80 L382.83,241.33 L383.26,241.17 L383.69,240.97 L384.12,240.97 L384.55,240.96 L384.98,241.09 L385.41,241.17 L385.84,241.65 L386.26,241.82 L386.69,241.99 L387.12,241.72 L387.55,241.53 L387.98,241.28 L388.41,240.98 L388.84,241.09 L389.27,240.92 L389.70,240.61 L390.12,240.72 L390.55,240.61 L390.98,240.75 L391.41,241.14 L391.84,241.15 L392.27,241.34 L392.70,241.32 L393.13,241.42 L393.56,241.35 L393.99,241.76 L394.42,241.31 L394.84,241.06 L395.27,241.17 L395.70,241.37 L396.13,241.37 L396.56,241.24 L396.99,241.17 L397.42,241.11 L397.85,241.51 L398.28,241.69 L398.70,241.36 L399.13,241.29 L399.56,241.55 L399.99,241.64 L400.42,241.82 L400.85,241.88 L401.28,241.49 L401.71,241.42 L402.14,241.08 L402.57,240.94 L403.00,241.13 L403.42,241.10 L403.85,240.47 L404.28,240.49 L404.71,240.52 L405.14,240.06 L405.57,239.83 L406.00,239.59 L406.43,239.04 L406.86,239.11 L407.29,238.66 L407.71,238.46 L408.14,238.25 L408.57,237.82 L409.00,236.93 L409.43,236.26 L409.86,235.83 L410.29,235.12 L410.72,233.76 L411.15,232.44 L411.57,231.42 L412.00,229.54 L412.43,228.10 L412.86,226.61 L413.29,224.66 L413.72,222.26 L414.15,219.48 L414.58,216.58 L415.01,213.65 L415.44,210.36 L415.87,206.84 L416.29,202.59 L416.72,198.02 L417.15,192.81 L417.58,187.48 L418.01,181.56 L418.44,175.38 L418.87,169.07 L419.30,162.79 L419.73,156.88 L420.16,151.90 L420.58,148.05 L421.01,146.33 L421.44,147.10 L421.87,149.45 L422.30,153.45 L422.73,158.31 L423.16,164.13 L423.59,170.17 L424.02,176.26 L424.44,181.97 L424.87,187.32 L425.30,192.38 L425.73,197.14 L426.16,201.36 L426.59,205.32 L427.02,208.88 L427.45,212.35 L427.88,215.26 L428.31,218.12 L428.74,220.66 L429.16,222.74 L429.59,224.25 L430.02,225.83 L430.45,227.46 L430.88,228.95 L431.31,230.06 L431.74,230.99 L432.17,231.86 L432.60,232.92 L433.03,233.85 L433.45,234.79 L433.88,235.62 L434.31,236.48 L434.74,237.12 L435.17,238.08 L435.60,238.73 L436.03,239.00 L436.46,239.52 L436.89,239.69 L437.31,240.22 L437.74,240.51 L438.17,240.63 L438.60,241.02 L439.03,241.31 L439.46,240.95 L439.89,241.28 L440.32,241.57 L440.75,241.80 L441.18,241.89 L441.61,242.00 L442.03,241.89 L442.46,241.85 L442.89,242.06 L443.32,242.23 L443.75,242.59 L444.18,242.92 L444.61,243.06 L445.04,242.89 L445.47,242.88 L445.90,242.73 L446.32,242.59 L446.75,242.68 L447.18,242.32 L447.61,242.53 L448.04,242.72 L448.47,242.85 L448.90,242.66 L449.33,242.74 L449.76,242.92 L450.19,242.85 L450.61,242.65 L451.04,242.72 L451.47,242.80 L451.90,242.61 L452.33,242.46 L452.76,242.33 L453.19,242.55 L453.62,242.53 L454.05,242.49 L454.48,242.87 L454.90,242.61 L455.33,242.59 L455.76,242.65 L456.19,242.19 L456.62,242.20 L457.05,242.37 L457.48,242.37 L457.91,242.25 L458.34,242.08 L458.76,242.10 L459.19,242.27 L459.62,242.36 L460.05,242.46 L460.48,242.58 L460.91,242.46 L461.34,242.45 L461.77,242.32 L462.20,242.37 L462.63,242.41 L463.06,242.30 L463.48,242.23 L463.91,241.93 L464.34,242.06 L464.77,241.97 L465.20,241.93 L465.63,242.14 L466.06,241.92 L466.49,241.84 L466.92,242.21 L467.35,242.00 L467.77,241.76 L468.20,241.88 L468.63,241.50 L469.06,241.47 L469.49,241.70 L469.92,241.56 L470.35,241.62 L470.78,241.86 L471.21,242.21 L471.63,242.05 L472.06,242.10 L472.49,241.87 L472.92,241.72 L473.35,241.77 L473.78,241.82 L474.21,241.40 L474.64,241.06 L475.07,240.96 L475.50,241.08 L475.93,241.31 L476.35,241.39 L476.78,241.05 L477.21,241.00 L477.64,241.10 L478.07,241.36 L478.50,241.32 L478.93,241.48 L479.36,241.45 L479.79,241.28 L480.22,241.07 L480.64,241.07 L481.07,241.17 L481.50,241.14 L481.93,240.81 L482.36,240.81 L482.79,241.15 L483.22,240.87 L483.65,240.88 L484.08,240.27 L484.50,240.52 L484.93,240.65 L485.36,240.81 L485.79,240.82 L486.22,241.01 L486.65,241.34 L487.08,241.72 L487.51,241.69 L487.94,241.75 L488.37,241.81 L488.80,241.34 L489.22,241.19 L489.65,241.02 L490.08,241.18 L490.51,241.17 L490.94,241.25 L491.37,241.33 L491.80,241.21 L492.23,241.14 L492.66,241.14 L493.09,241.18 L493.51,241.52 L493.94,241.67 L494.37,241.59 L494.80,241.66 L495.23,241.81 L495.66,241.71 L496.09,241.88 L496.52,241.98 L496.95,241.77 L497.38,241.83 L497.80,241.53 L498.23,241.46 L498.66,241.35 L499.09,241.19 L499.52,241.69 L499.95,241.72 L500.38,241.97 L500.81,242.04 L501.24,242.02 L501.67,241.75 L502.09,241.76 L502.52,241.45 L502.95,241.61 L503.38,241.65 L503.81,241.66 L504.24,241.50 L504.67,241.56 L505.10,241.71 L505.53,241.79 L505.96,242.07 L506.38,241.79 L506.81,241.65 L507.24,241.59 L507.67,241.57 L508.10,241.72" fill="none" stroke="#6d8fc2" stroke-width="1.05" stroke-linejoin="round"/>
<text x="1.5" y="290.4" font-size="14" font-weight="bold" fill="#000" stroke="#000" stroke-width="0.18" text-anchor="start">G</text>
<text x="78.8" y="289.3" font-size="12.8" font-weight="bold" fill="#000" stroke="#000" stroke-width="0.18" text-anchor="start" textLength="115" lengthAdjust="spacingAndGlyphs">Sox4 primary motif</text>
<text x="297.7" y="289.3" font-size="12.8" font-weight="bold" fill="#000" stroke="#000" stroke-width="0.18" text-anchor="start" textLength="131.5" lengthAdjust="spacingAndGlyphs">Sox4 secondary motif</text>
<text x="39" y="319.5" font-size="4.5" font-weight="bold" fill="#333" text-anchor="end" textLength="15" lengthAdjust="spacingAndGlyphs">Name</text>
<text x="39" y="326.0" font-size="4.5" font-weight="bold" fill="#333" text-anchor="end" textLength="19.5" lengthAdjust="spacingAndGlyphs">Alt. Name</text>
<text x="39" y="332.8" font-size="4.5" font-weight="bold" fill="#333" text-anchor="end" textLength="19.1" lengthAdjust="spacingAndGlyphs">Database</text>
<text x="39" y="345.9" font-size="4.5" font-weight="bold" fill="#333" text-anchor="end" textLength="14" lengthAdjust="spacingAndGlyphs"><tspan font-style="italic">p</tspan> value</text>
<text x="39" y="352.9" font-size="4.5" font-weight="bold" fill="#333" text-anchor="end" textLength="14" lengthAdjust="spacingAndGlyphs"><tspan font-style="italic">e</tspan> value</text>
<text x="39" y="359.3" font-size="4.5" font-weight="bold" fill="#333" text-anchor="end" textLength="14" lengthAdjust="spacingAndGlyphs"><tspan font-style="italic">q</tspan> value</text>
<text x="39" y="372.6" font-size="4.5" font-weight="bold" fill="#333" text-anchor="end" textLength="15" lengthAdjust="spacingAndGlyphs">Overlap</text>
<text x="39" y="379.2" font-size="4.5" font-weight="bold" fill="#333" text-anchor="end" textLength="12.5" lengthAdjust="spacingAndGlyphs">Offset</text>
<text x="39" y="386.1" font-size="4.5" font-weight="bold" fill="#333" text-anchor="end" textLength="20.7" lengthAdjust="spacingAndGlyphs">Orientation</text>
<text x="48.9" y="319.5" font-size="4.5" fill="#6a3fa8" text-anchor="start" textLength="21.6" lengthAdjust="spacingAndGlyphs" text-decoration="underline">UP00002_1</text>
<line x1="48.9" y1="320.1" x2="70.5" y2="320.1" stroke="#8a6ac8" stroke-width="0.35"/>
<text x="48.9" y="326.0" font-size="4.5" fill="#555" text-anchor="start" textLength="26" lengthAdjust="spacingAndGlyphs">Sox4_primary</text>
<text x="48.9" y="332.8" font-size="4.5" fill="#555" text-anchor="start" textLength="44" lengthAdjust="spacingAndGlyphs">uniprobe_mouse.meme</text>
<text x="48.9" y="345.9" font-size="4.5" fill="#555" text-anchor="start" textLength="25" lengthAdjust="spacingAndGlyphs">6.96842e-14</text>
<text x="48.9" y="352.9" font-size="4.5" fill="#555" text-anchor="start" textLength="25" lengthAdjust="spacingAndGlyphs">8.43179e-11</text>
<text x="48.9" y="359.3" font-size="4.5" fill="#555" text-anchor="start" textLength="25" lengthAdjust="spacingAndGlyphs">1.66282e-10</text>
<text x="48.9" y="372.6" font-size="4.5" fill="#555" text-anchor="start" textLength="4" lengthAdjust="spacingAndGlyphs">12</text>
<text x="48.9" y="379.2" font-size="4.5" fill="#555" text-anchor="start" textLength="2" lengthAdjust="spacingAndGlyphs">3</text>
<text x="48.9" y="386.1" font-size="4.5" fill="#555" text-anchor="start" textLength="40.3" lengthAdjust="spacingAndGlyphs">Reverse Complement</text>
<text x="288.2" y="319.5" font-size="4.5" font-weight="bold" fill="#333" text-anchor="end" textLength="13.5" lengthAdjust="spacingAndGlyphs">Name</text>
<text x="288.2" y="326.5" font-size="4.5" font-weight="bold" fill="#333" text-anchor="end" textLength="17.5" lengthAdjust="spacingAndGlyphs">Alt. Name</text>
<text x="288.2" y="333.3" font-size="4.5" font-weight="bold" fill="#333" text-anchor="end" textLength="17.2" lengthAdjust="spacingAndGlyphs">Database</text>
<text x="288.2" y="345.9" font-size="4.5" font-weight="bold" fill="#333" text-anchor="end" textLength="12.6" lengthAdjust="spacingAndGlyphs"><tspan font-style="italic">p</tspan> value</text>
<text x="288.2" y="352.7" font-size="4.5" font-weight="bold" fill="#333" text-anchor="end" textLength="12.6" lengthAdjust="spacingAndGlyphs"><tspan font-style="italic">e</tspan> value</text>
<text x="288.2" y="358.9" font-size="4.5" font-weight="bold" fill="#333" text-anchor="end" textLength="12.6" lengthAdjust="spacingAndGlyphs"><tspan font-style="italic">q</tspan> value</text>
<text x="288.2" y="372.2" font-size="4.5" font-weight="bold" fill="#333" text-anchor="end" textLength="13.5" lengthAdjust="spacingAndGlyphs">Overlap</text>
<text x="288.2" y="378.8" font-size="4.5" font-weight="bold" fill="#333" text-anchor="end" textLength="11.3" lengthAdjust="spacingAndGlyphs">Offset</text>
<text x="288.2" y="385.7" font-size="4.5" font-weight="bold" fill="#333" text-anchor="end" textLength="18.2" lengthAdjust="spacingAndGlyphs">Orientation</text>
<text x="296.8" y="319.5" font-size="4.5" fill="#6a3fa8" text-anchor="start" textLength="20" lengthAdjust="spacingAndGlyphs" text-decoration="underline">UP00400_1</text>
<line x1="296.8" y1="320.1" x2="316.8" y2="320.1" stroke="#8a6ac8" stroke-width="0.35"/>
<text x="296.8" y="326.5" font-size="4.5" fill="#555" text-anchor="start" textLength="26" lengthAdjust="spacingAndGlyphs">Gabpa_primary</text>
<text x="296.8" y="333.3" font-size="4.5" fill="#555" text-anchor="start" textLength="40" lengthAdjust="spacingAndGlyphs">uniprobe_mouse.meme</text>
<text x="296.8" y="345.9" font-size="4.5" fill="#555" text-anchor="start" textLength="19" lengthAdjust="spacingAndGlyphs">1.02498e-08</text>
<text x="296.8" y="352.7" font-size="4.5" fill="#555" text-anchor="start" textLength="19" lengthAdjust="spacingAndGlyphs">1.27832e-05</text>
<text x="296.8" y="358.9" font-size="4.5" fill="#555" text-anchor="start" textLength="19" lengthAdjust="spacingAndGlyphs">3.32347e-05</text>
<text x="296.8" y="372.2" font-size="4.5" fill="#555" text-anchor="start" textLength="3.6" lengthAdjust="spacingAndGlyphs">12</text>
<text x="296.8" y="378.8" font-size="4.5" fill="#555" text-anchor="start" textLength="1.5" lengthAdjust="spacingAndGlyphs">1</text>
<text x="296.8" y="385.7" font-size="4.5" fill="#555" text-anchor="start" textLength="36" lengthAdjust="spacingAndGlyphs">Reverse Complement</text>
<line x1="112.6" y1="310" x2="112.6" y2="340.3" stroke="#444" stroke-width="0.6"/>
<line x1="111.1" y1="310" x2="112.6" y2="310" stroke="#333" stroke-width="0.4"/>
<text x="110.39999999999999" y="311.2" font-size="3.5" fill="#333" text-anchor="end">2</text>
<line x1="111.1" y1="325.15" x2="112.6" y2="325.15" stroke="#333" stroke-width="0.4"/>
<text x="110.39999999999999" y="326.34999999999997" font-size="3.5" fill="#333" text-anchor="end">1</text>
<line x1="111.1" y1="340.3" x2="112.6" y2="340.3" stroke="#333" stroke-width="0.4"/>
<text x="110.39999999999999" y="341.5" font-size="3.5" fill="#333" text-anchor="end">0</text>
<text transform="translate(107.1,325.15) rotate(-90)" font-size="3.5" font-weight="bold" fill="#333" text-anchor="middle">bits</text>
<rect x="115.25" y="341.10" width="1.9" height="1.6" fill="#3a3a3a" opacity="0.6"/>
<rect x="123.20" y="341.10" width="1.9" height="1.6" fill="#3a3a3a" opacity="0.6"/>
<rect x="131.15" y="341.10" width="1.9" height="1.6" fill="#3a3a3a" opacity="0.6"/>
<rect x="139.10" y="341.10" width="1.9" height="1.6" fill="#3a3a3a" opacity="0.6"/>
<rect x="147.05" y="341.10" width="1.9" height="1.6" fill="#3a3a3a" opacity="0.6"/>
<rect x="155.00" y="341.10" width="1.9" height="1.6" fill="#3a3a3a" opacity="0.6"/>
<rect x="162.95" y="341.10" width="1.9" height="1.6" fill="#3a3a3a" opacity="0.6"/>
<rect x="170.90" y="341.10" width="1.9" height="1.6" fill="#3a3a3a" opacity="0.6"/>
<rect x="178.85" y="341.10" width="1.9" height="1.6" fill="#3a3a3a" opacity="0.6"/>
<rect x="186.80" y="341.10" width="1.9" height="2.6" fill="#3a3a3a" opacity="0.6"/>
<rect x="194.75" y="341.10" width="1.9" height="2.6" fill="#3a3a3a" opacity="0.6"/>
<rect x="202.70" y="341.10" width="1.9" height="2.6" fill="#3a3a3a" opacity="0.6"/>
<rect x="210.65" y="341.10" width="1.9" height="2.6" fill="#3a3a3a" opacity="0.6"/>
<rect x="218.60" y="341.10" width="1.9" height="2.6" fill="#3a3a3a" opacity="0.6"/>
<rect x="226.55" y="341.10" width="1.9" height="2.6" fill="#3a3a3a" opacity="0.6"/>
<rect x="234.50" y="341.10" width="1.9" height="2.6" fill="#3a3a3a" opacity="0.6"/>
<text transform="translate(112.65,340.00) scale(0.0985,0.0058)" font-size="100" font-weight="bold" fill="#d01c1c">A</text>
<text transform="translate(112.51,339.60) scale(0.0978,0.0042)" font-size="100" font-weight="bold" fill="#f7b41a">G</text>
<text transform="translate(120.45,339.99) scale(0.1008,0.0056)" font-size="100" font-weight="bold" fill="#1010c8">C</text>
<text transform="translate(120.74,339.60) scale(0.1119,0.0044)" font-size="100" font-weight="bold" fill="#1d8a1d">T</text>
<text transform="translate(128.55,340.00) scale(0.0985,0.0043)" font-size="100" font-weight="bold" fill="#d01c1c">A</text>
<text transform="translate(128.41,339.70) scale(0.0978,0.0042)" font-size="100" font-weight="bold" fill="#f7b41a">G</text>
<text transform="translate(136.64,340.01) scale(0.1119,0.0117)" font-size="100" font-weight="bold" fill="#1d8a1d">T</text>
<text transform="translate(136.50,339.20) scale(0.0985,0.0116)" font-size="100" font-weight="bold" fill="#d01c1c">A</text>
<text transform="translate(136.35,338.38) scale(0.1008,0.0169)" font-size="100" font-weight="bold" fill="#1010c8">C</text>
<text transform="translate(144.45,340.00) scale(0.0985,0.0145)" font-size="100" font-weight="bold" fill="#d01c1c">A</text>
<text transform="translate(144.59,339.02) scale(0.1119,0.0438)" font-size="100" font-weight="bold" fill="#1d8a1d">T</text>
<text transform="translate(144.30,335.93) scale(0.1008,0.0732)" font-size="100" font-weight="bold" fill="#1010c8">C</text>
<text transform="translate(152.40,340.00) scale(0.0985,0.0145)" font-size="100" font-weight="bold" fill="#d01c1c">A</text>
<text transform="translate(152.54,339.02) scale(0.1119,0.0467)" font-size="100" font-weight="bold" fill="#1d8a1d">T</text>
<text transform="translate(152.25,335.64) scale(0.1008,0.1577)" font-size="100" font-weight="bold" fill="#1010c8">C</text>
<text transform="translate(160.35,340.00) scale(0.0985,0.0609)" font-size="100" font-weight="bold" fill="#d01c1c">A</text>
<text transform="translate(160.49,335.89) scale(0.1119,0.1898)" font-size="100" font-weight="bold" fill="#1d8a1d">T</text>
<text transform="translate(168.44,340.20) scale(0.1119,0.3971)" font-size="100" font-weight="bold" fill="#1d8a1d">T</text>
<text transform="translate(176.39,340.20) scale(0.1119,0.3971)" font-size="100" font-weight="bold" fill="#1d8a1d">T</text>
<text transform="translate(183.87,339.12) scale(0.1027,0.3803)" font-size="100" font-weight="bold" fill="#f7b41a">G</text>
<text transform="translate(192.29,340.20) scale(0.1119,0.3971)" font-size="100" font-weight="bold" fill="#1d8a1d">T</text>
<text transform="translate(199.96,339.99) scale(0.0978,0.0141)" font-size="100" font-weight="bold" fill="#f7b41a">G</text>
<text transform="translate(199.95,338.96) scale(0.1008,0.0423)" font-size="100" font-weight="bold" fill="#1010c8">C</text>
<text transform="translate(200.24,336.09) scale(0.1119,0.1869)" font-size="100" font-weight="bold" fill="#1d8a1d">T</text>
<text transform="translate(208.05,340.00) scale(0.0985,0.0087)" font-size="100" font-weight="bold" fill="#d01c1c">A</text>
<text transform="translate(207.90,339.38) scale(0.1008,0.0169)" font-size="100" font-weight="bold" fill="#1010c8">C</text>
<text transform="translate(207.91,338.17) scale(0.0978,0.0254)" font-size="100" font-weight="bold" fill="#f7b41a">G</text>
<text transform="translate(216.14,340.00) scale(0.1119,0.0073)" font-size="100" font-weight="bold" fill="#1d8a1d">T</text>
<text transform="translate(215.85,339.49) scale(0.1008,0.0127)" font-size="100" font-weight="bold" fill="#1010c8">C</text>
<text transform="translate(223.95,340.00) scale(0.0985,0.0043)" font-size="100" font-weight="bold" fill="#d01c1c">A</text>
<text transform="translate(223.80,339.70) scale(0.1008,0.0042)" font-size="100" font-weight="bold" fill="#1010c8">C</text>
<text transform="translate(231.75,339.99) scale(0.1008,0.0056)" font-size="100" font-weight="bold" fill="#1010c8">C</text>
<text transform="translate(231.76,339.59) scale(0.0978,0.0056)" font-size="100" font-weight="bold" fill="#f7b41a">G</text>
<text x="168.5" y="309.6" font-size="3.8" font-family="Liberation Serif" fill="#000" font-weight="bold" textLength="20.5" lengthAdjust="spacingAndGlyphs" style="font-family:'Liberation Serif'">UP00002_1</text>
<line x1="112.6" y1="353.5" x2="112.6" y2="384.2" stroke="#444" stroke-width="0.6"/>
<line x1="111.1" y1="353.5" x2="112.6" y2="353.5" stroke="#333" stroke-width="0.4"/>
<text x="110.39999999999999" y="354.7" font-size="3.5" fill="#333" text-anchor="end">2</text>
<line x1="111.1" y1="368.85" x2="112.6" y2="368.85" stroke="#333" stroke-width="0.4"/>
<text x="110.39999999999999" y="370.05" font-size="3.5" fill="#333" text-anchor="end">1</text>
<line x1="111.1" y1="384.2" x2="112.6" y2="384.2" stroke="#333" stroke-width="0.4"/>
<text x="110.39999999999999" y="385.4" font-size="3.5" fill="#333" text-anchor="end">0</text>
<text transform="translate(107.1,368.85) rotate(-90)" font-size="3.5" font-weight="bold" fill="#333" text-anchor="middle">bits</text>
<rect x="139.35" y="385.10" width="1.9" height="1.6" fill="#3a3a3a" opacity="0.6"/>
<rect x="147.30" y="385.10" width="1.9" height="1.6" fill="#3a3a3a" opacity="0.6"/>
<rect x="155.25" y="385.10" width="1.9" height="1.6" fill="#3a3a3a" opacity="0.6"/>
<rect x="163.20" y="385.10" width="1.9" height="1.6" fill="#3a3a3a" opacity="0.6"/>
<rect x="171.15" y="385.10" width="1.9" height="1.6" fill="#3a3a3a" opacity="0.6"/>
<rect x="179.10" y="385.10" width="1.9" height="1.6" fill="#3a3a3a" opacity="0.6"/>
<rect x="187.05" y="385.10" width="1.9" height="1.6" fill="#3a3a3a" opacity="0.6"/>
<rect x="195.00" y="385.10" width="1.9" height="1.6" fill="#3a3a3a" opacity="0.6"/>
<rect x="202.95" y="385.10" width="1.9" height="1.6" fill="#3a3a3a" opacity="0.6"/>
<rect x="210.90" y="385.10" width="1.9" height="2.6" fill="#3a3a3a" opacity="0.6"/>
<rect x="218.85" y="385.10" width="1.9" height="2.6" fill="#3a3a3a" opacity="0.6"/>
<rect x="226.80" y="385.10" width="1.9" height="2.6" fill="#3a3a3a" opacity="0.6"/>
<text transform="translate(136.61,383.48) scale(0.0978,0.0169)" font-size="100" font-weight="bold" fill="#f7b41a">G</text>
<text transform="translate(136.89,382.32) scale(0.1119,0.0380)" font-size="100" font-weight="bold" fill="#1d8a1d">T</text>
<text transform="translate(144.70,383.50) scale(0.0985,0.0116)" font-size="100" font-weight="bold" fill="#d01c1c">A</text>
<text transform="translate(144.56,382.68) scale(0.0978,0.0197)" font-size="100" font-weight="bold" fill="#f7b41a">G</text>
<text transform="translate(144.55,381.26) scale(0.1008,0.0423)" font-size="100" font-weight="bold" fill="#1010c8">C</text>
<text transform="translate(152.79,383.51) scale(0.1119,0.0102)" font-size="100" font-weight="bold" fill="#1d8a1d">T</text>
<text transform="translate(152.65,382.80) scale(0.0985,0.0116)" font-size="100" font-weight="bold" fill="#d01c1c">A</text>
<text transform="translate(152.50,381.77) scale(0.1008,0.2282)" font-size="100" font-weight="bold" fill="#1010c8">C</text>
<text transform="translate(160.60,383.50) scale(0.0985,0.0406)" font-size="100" font-weight="bold" fill="#d01c1c">A</text>
<text transform="translate(160.74,380.77) scale(0.1119,0.1343)" font-size="100" font-weight="bold" fill="#1d8a1d">T</text>
<text transform="translate(168.69,383.66) scale(0.1119,0.3109)" font-size="100" font-weight="bold" fill="#1d8a1d">T</text>
<text transform="translate(176.50,383.50) scale(0.0985,0.0217)" font-size="100" font-weight="bold" fill="#d01c1c">A</text>
<text transform="translate(176.64,382.14) scale(0.1119,0.2818)" font-size="100" font-weight="bold" fill="#1d8a1d">T</text>
<text transform="translate(184.12,382.71) scale(0.1027,0.2859)" font-size="100" font-weight="bold" fill="#f7b41a">G</text>
<text transform="translate(192.54,383.65) scale(0.1119,0.3036)" font-size="100" font-weight="bold" fill="#1d8a1d">T</text>
<text transform="translate(200.20,383.46) scale(0.1008,0.0423)" font-size="100" font-weight="bold" fill="#1010c8">C</text>
<text transform="translate(200.49,380.56) scale(0.1119,0.1182)" font-size="100" font-weight="bold" fill="#1d8a1d">T</text>
<text transform="translate(208.16,383.48) scale(0.0978,0.0169)" font-size="100" font-weight="bold" fill="#f7b41a">G</text>
<text transform="translate(208.44,382.32) scale(0.1119,0.0336)" font-size="100" font-weight="bold" fill="#1d8a1d">T</text>
<text transform="translate(208.15,379.95) scale(0.1008,0.0507)" font-size="100" font-weight="bold" fill="#1010c8">C</text>
<text transform="translate(216.10,383.49) scale(0.1008,0.0085)" font-size="100" font-weight="bold" fill="#1010c8">C</text>
<text transform="translate(216.39,382.91) scale(0.1119,0.0117)" font-size="100" font-weight="bold" fill="#1d8a1d">T</text>
<text transform="translate(216.25,382.10) scale(0.0985,0.0101)" font-size="100" font-weight="bold" fill="#d01c1c">A</text>
<text transform="translate(224.20,383.50) scale(0.0985,0.0058)" font-size="100" font-weight="bold" fill="#d01c1c">A</text>
<text transform="translate(224.06,383.09) scale(0.0978,0.0056)" font-size="100" font-weight="bold" fill="#f7b41a">G</text>
<text x="173.8" y="394.6" font-size="3.8" fill="#000" font-weight="bold" textLength="9.2" lengthAdjust="spacingAndGlyphs" style="font-family:'Liberation Serif'">C902</text>
<line x1="353.1" y1="310.2" x2="353.1" y2="340.5" stroke="#444" stroke-width="0.6"/>
<line x1="351.6" y1="310.2" x2="353.1" y2="310.2" stroke="#333" stroke-width="0.4"/>
<text x="350.90000000000003" y="311.4" font-size="3.5" fill="#333" text-anchor="end">2</text>
<line x1="351.6" y1="325.35" x2="353.1" y2="325.35" stroke="#333" stroke-width="0.4"/>
<text x="350.90000000000003" y="326.55" font-size="3.5" fill="#333" text-anchor="end">1</text>
<line x1="351.6" y1="340.5" x2="353.1" y2="340.5" stroke="#333" stroke-width="0.4"/>
<text x="350.90000000000003" y="341.7" font-size="3.5" fill="#333" text-anchor="end">0</text>
<text transform="translate(347.6,325.35) rotate(-90)" font-size="3.5" font-weight="bold" fill="#333" text-anchor="middle">bits</text>
<rect x="356.25" y="341.10" width="1.9" height="1.6" fill="#3a3a3a" opacity="0.6"/>
<rect x="363.45" y="341.10" width="1.9" height="1.6" fill="#3a3a3a" opacity="0.6"/>
<rect x="370.65" y="341.10" width="1.9" height="1.6" fill="#3a3a3a" opacity="0.6"/>
<rect x="377.85" y="341.10" width="1.9" height="1.6" fill="#3a3a3a" opacity="0.6"/>
<rect x="385.05" y="341.10" width="1.9" height="1.6" fill="#3a3a3a" opacity="0.6"/>
<rect x="392.25" y="341.10" width="1.9" height="1.6" fill="#3a3a3a" opacity="0.6"/>
<rect x="399.45" y="341.10" width="1.9" height="1.6" fill="#3a3a3a" opacity="0.6"/>
<rect x="406.65" y="341.10" width="1.9" height="1.6" fill="#3a3a3a" opacity="0.6"/>
<rect x="413.85" y="341.10" width="1.9" height="1.6" fill="#3a3a3a" opacity="0.6"/>
<rect x="421.05" y="341.10" width="1.9" height="2.6" fill="#3a3a3a" opacity="0.6"/>
<rect x="428.25" y="341.10" width="1.9" height="2.6" fill="#3a3a3a" opacity="0.6"/>
<rect x="435.45" y="341.10" width="1.9" height="2.6" fill="#3a3a3a" opacity="0.6"/>
<rect x="442.65" y="341.10" width="1.9" height="2.6" fill="#3a3a3a" opacity="0.6"/>
<rect x="449.85" y="341.10" width="1.9" height="2.6" fill="#3a3a3a" opacity="0.6"/>
<rect x="457.05" y="341.10" width="1.9" height="2.6" fill="#3a3a3a" opacity="0.6"/>
<rect x="464.25" y="341.10" width="1.9" height="2.6" fill="#3a3a3a" opacity="0.6"/>
<rect x="471.45" y="341.10" width="1.9" height="2.6" fill="#3a3a3a" opacity="0.6"/>
<text transform="translate(353.92,340.00) scale(0.0910,0.0043)" font-size="100" font-weight="bold" fill="#d01c1c">A</text>
<text transform="translate(360.98,340.00) scale(0.0931,0.0042)" font-size="100" font-weight="bold" fill="#1010c8">C</text>
<text transform="translate(368.19,340.00) scale(0.0904,0.0042)" font-size="100" font-weight="bold" fill="#f7b41a">G</text>
<text transform="translate(375.65,340.00) scale(0.1034,0.0088)" font-size="100" font-weight="bold" fill="#1d8a1d">T</text>
<text transform="translate(375.39,339.39) scale(0.0904,0.0085)" font-size="100" font-weight="bold" fill="#f7b41a">G</text>
<text transform="translate(375.38,338.79) scale(0.0931,0.0113)" font-size="100" font-weight="bold" fill="#1010c8">C</text>
<text transform="translate(382.58,339.99) scale(0.0931,0.0099)" font-size="100" font-weight="bold" fill="#1010c8">C</text>
<text transform="translate(382.59,339.27) scale(0.0904,0.0254)" font-size="100" font-weight="bold" fill="#f7b41a">G</text>
<text transform="translate(382.72,337.50) scale(0.0910,0.2072)" font-size="100" font-weight="bold" fill="#d01c1c">A</text>
<text transform="translate(389.92,340.00) scale(0.0910,0.0116)" font-size="100" font-weight="bold" fill="#d01c1c">A</text>
<text transform="translate(390.05,339.21) scale(0.1034,0.0248)" font-size="100" font-weight="bold" fill="#1d8a1d">T</text>
<text transform="translate(389.78,337.35) scale(0.0931,0.1507)" font-size="100" font-weight="bold" fill="#1010c8">C</text>
<text transform="translate(397.12,340.00) scale(0.0910,0.0145)" font-size="100" font-weight="bold" fill="#d01c1c">A</text>
<text transform="translate(396.98,338.97) scale(0.0931,0.0282)" font-size="100" font-weight="bold" fill="#1010c8">C</text>
<text transform="translate(397.25,337.13) scale(0.1034,0.2628)" font-size="100" font-weight="bold" fill="#1d8a1d">T</text>
<text transform="translate(404.45,340.20) scale(0.1034,0.3942)" font-size="100" font-weight="bold" fill="#1d8a1d">T</text>
<text transform="translate(411.21,339.46) scale(0.0978,0.3408)" font-size="100" font-weight="bold" fill="#1010c8">C</text>
<text transform="translate(418.41,339.45) scale(0.0978,0.3535)" font-size="100" font-weight="bold" fill="#1010c8">C</text>
<text transform="translate(426.05,339.50) scale(0.1034,0.0073)" font-size="100" font-weight="bold" fill="#1d8a1d">T</text>
<text transform="translate(425.92,339.00) scale(0.0910,0.0087)" font-size="100" font-weight="bold" fill="#d01c1c">A</text>
<text transform="translate(425.79,338.11) scale(0.0904,0.2901)" font-size="100" font-weight="bold" fill="#f7b41a">G</text>
<text transform="translate(433.15,339.49) scale(0.0885,0.0070)" font-size="100" font-weight="bold" fill="#1010c8">C</text>
<text transform="translate(433.29,339.00) scale(0.0865,0.0087)" font-size="100" font-weight="bold" fill="#d01c1c">A</text>
<text transform="translate(433.16,338.11) scale(0.0859,0.2901)" font-size="100" font-weight="bold" fill="#f7b41a">G</text>
<text transform="translate(440.19,339.99) scale(0.0904,0.0099)" font-size="100" font-weight="bold" fill="#f7b41a">G</text>
<text transform="translate(440.18,339.28) scale(0.0931,0.0225)" font-size="100" font-weight="bold" fill="#1010c8">C</text>
<text transform="translate(440.45,337.79) scale(0.1034,0.1708)" font-size="100" font-weight="bold" fill="#1d8a1d">T</text>
<text transform="translate(447.52,340.00) scale(0.0910,0.0058)" font-size="100" font-weight="bold" fill="#d01c1c">A</text>
<text transform="translate(447.38,339.59) scale(0.0931,0.0056)" font-size="100" font-weight="bold" fill="#1010c8">C</text>
<text transform="translate(447.65,339.20) scale(0.1034,0.0058)" font-size="100" font-weight="bold" fill="#1d8a1d">T</text>
<text transform="translate(454.59,339.99) scale(0.0904,0.0056)" font-size="100" font-weight="bold" fill="#f7b41a">G</text>
<text transform="translate(454.72,339.60) scale(0.0910,0.0043)" font-size="100" font-weight="bold" fill="#d01c1c">A</text>
<text transform="translate(461.78,340.00) scale(0.0931,0.0042)" font-size="100" font-weight="bold" fill="#1010c8">C</text>
<text transform="translate(469.12,340.00) scale(0.0910,0.0043)" font-size="100" font-weight="bold" fill="#d01c1c">A</text>
<text transform="translate(468.99,339.70) scale(0.0904,0.0042)" font-size="100" font-weight="bold" fill="#f7b41a">G</text>
<text x="404" y="309.6" font-size="3.4" fill="#000" font-weight="bold" textLength="13.8" lengthAdjust="spacingAndGlyphs" style="font-family:'Liberation Serif'">UP00400_1</text>
<line x1="353.1" y1="354.3" x2="353.1" y2="384.6" stroke="#444" stroke-width="0.6"/>
<line x1="351.6" y1="354.3" x2="353.1" y2="354.3" stroke="#333" stroke-width="0.4"/>
<text x="350.90000000000003" y="355.5" font-size="3.5" fill="#333" text-anchor="end">2</text>
<line x1="351.6" y1="369.45000000000005" x2="353.1" y2="369.45000000000005" stroke="#333" stroke-width="0.4"/>
<text x="350.90000000000003" y="370.65000000000003" font-size="3.5" fill="#333" text-anchor="end">1</text>
<line x1="351.6" y1="384.6" x2="353.1" y2="384.6" stroke="#333" stroke-width="0.4"/>
<text x="350.90000000000003" y="385.8" font-size="3.5" fill="#333" text-anchor="end">0</text>
<text transform="translate(347.6,369.45000000000005) rotate(-90)" font-size="3.5" font-weight="bold" fill="#333" text-anchor="middle">bits</text>
<rect x="363.35" y="385.40" width="1.9" height="1.6" fill="#3a3a3a" opacity="0.6"/>
<rect x="370.55" y="385.40" width="1.9" height="1.6" fill="#3a3a3a" opacity="0.6"/>
<rect x="377.75" y="385.40" width="1.9" height="1.6" fill="#3a3a3a" opacity="0.6"/>
<rect x="384.95" y="385.40" width="1.9" height="1.6" fill="#3a3a3a" opacity="0.6"/>
<rect x="392.15" y="385.40" width="1.9" height="1.6" fill="#3a3a3a" opacity="0.6"/>
<rect x="399.35" y="385.40" width="1.9" height="1.6" fill="#3a3a3a" opacity="0.6"/>
<rect x="406.55" y="385.40" width="1.9" height="1.6" fill="#3a3a3a" opacity="0.6"/>
<rect x="413.75" y="385.40" width="1.9" height="1.6" fill="#3a3a3a" opacity="0.6"/>
<rect x="420.95" y="385.40" width="1.9" height="1.6" fill="#3a3a3a" opacity="0.6"/>
<rect x="428.15" y="385.40" width="1.9" height="2.6" fill="#3a3a3a" opacity="0.6"/>
<rect x="435.35" y="385.40" width="1.9" height="2.6" fill="#3a3a3a" opacity="0.6"/>
<rect x="442.55" y="385.40" width="1.9" height="2.6" fill="#3a3a3a" opacity="0.6"/>
<text transform="translate(361.15,383.50) scale(0.1034,0.0088)" font-size="100" font-weight="bold" fill="#1d8a1d">T</text>
<text transform="translate(360.88,382.89) scale(0.0931,0.0085)" font-size="100" font-weight="bold" fill="#1010c8">C</text>
<text transform="translate(368.09,383.49) scale(0.0904,0.0113)" font-size="100" font-weight="bold" fill="#f7b41a">G</text>
<text transform="translate(368.35,382.71) scale(0.1034,0.0219)" font-size="100" font-weight="bold" fill="#1d8a1d">T</text>
<text transform="translate(368.08,381.17) scale(0.0931,0.0310)" font-size="100" font-weight="bold" fill="#1010c8">C</text>
<text transform="translate(375.29,383.49) scale(0.0904,0.0113)" font-size="100" font-weight="bold" fill="#f7b41a">G</text>
<text transform="translate(375.55,382.71) scale(0.1034,0.0175)" font-size="100" font-weight="bold" fill="#1d8a1d">T</text>
<text transform="translate(375.28,381.45) scale(0.0931,0.0465)" font-size="100" font-weight="bold" fill="#1010c8">C</text>
<text transform="translate(382.75,383.50) scale(0.1034,0.0088)" font-size="100" font-weight="bold" fill="#1d8a1d">T</text>
<text transform="translate(382.48,382.89) scale(0.0931,0.0141)" font-size="100" font-weight="bold" fill="#1010c8">C</text>
<text transform="translate(382.62,381.90) scale(0.0910,0.2275)" font-size="100" font-weight="bold" fill="#d01c1c">A</text>
<text transform="translate(389.95,383.51) scale(0.1034,0.0117)" font-size="100" font-weight="bold" fill="#1d8a1d">T</text>
<text transform="translate(389.82,382.70) scale(0.0910,0.0116)" font-size="100" font-weight="bold" fill="#d01c1c">A</text>
<text transform="translate(389.68,381.72) scale(0.0931,0.1775)" font-size="100" font-weight="bold" fill="#1010c8">C</text>
<text transform="translate(397.02,383.50) scale(0.0910,0.0145)" font-size="100" font-weight="bold" fill="#d01c1c">A</text>
<text transform="translate(396.89,382.49) scale(0.0904,0.0085)" font-size="100" font-weight="bold" fill="#f7b41a">G</text>
<text transform="translate(397.15,382.00) scale(0.1034,0.2088)" font-size="100" font-weight="bold" fill="#1d8a1d">T</text>
<text transform="translate(404.22,383.50) scale(0.0910,0.0116)" font-size="100" font-weight="bold" fill="#d01c1c">A</text>
<text transform="translate(404.35,382.86) scale(0.1034,0.3139)" font-size="100" font-weight="bold" fill="#1d8a1d">T</text>
<text transform="translate(411.26,383.50) scale(0.0956,0.0087)" font-size="100" font-weight="bold" fill="#d01c1c">A</text>
<text transform="translate(411.11,382.61) scale(0.0978,0.2901)" font-size="100" font-weight="bold" fill="#1010c8">C</text>
<text transform="translate(418.59,383.50) scale(0.1086,0.0073)" font-size="100" font-weight="bold" fill="#1d8a1d">T</text>
<text transform="translate(418.31,382.70) scale(0.0978,0.3014)" font-size="100" font-weight="bold" fill="#1010c8">C</text>
<text transform="translate(425.68,383.49) scale(0.0931,0.0113)" font-size="100" font-weight="bold" fill="#1010c8">C</text>
<text transform="translate(425.95,382.73) scale(0.1034,0.0657)" font-size="100" font-weight="bold" fill="#1d8a1d">T</text>
<text transform="translate(425.69,378.12) scale(0.0904,0.0831)" font-size="100" font-weight="bold" fill="#f7b41a">G</text>
<text transform="translate(432.88,383.48) scale(0.0931,0.0211)" font-size="100" font-weight="bold" fill="#1010c8">C</text>
<text transform="translate(433.15,382.01) scale(0.1034,0.0234)" font-size="100" font-weight="bold" fill="#1d8a1d">T</text>
<text transform="translate(432.89,380.32) scale(0.0904,0.0761)" font-size="100" font-weight="bold" fill="#f7b41a">G</text>
<text transform="translate(440.08,383.47) scale(0.0931,0.0254)" font-size="100" font-weight="bold" fill="#1010c8">C</text>
<text transform="translate(440.35,381.77) scale(0.1034,0.1372)" font-size="100" font-weight="bold" fill="#1d8a1d">T</text>
<text x="408.9" y="394.3" font-size="3.6" fill="#000" font-weight="bold" textLength="8.1" lengthAdjust="spacingAndGlyphs" style="font-family:'Liberation Serif'">C907</text>
<text x="1.25" y="422" font-size="14" font-weight="bold" fill="#000" stroke="#000" stroke-width="0.18" text-anchor="start">H</text>
<text x="69.5" y="419.5" font-size="10" font-weight="bold" fill="#000" stroke="#000" stroke-width="0.18" text-anchor="start" textLength="51.7" lengthAdjust="spacingAndGlyphs">Sox4 motif</text>
<text x="249.7" y="419.4" font-size="10" font-weight="bold" fill="#000" stroke="#000" stroke-width="0.18" text-anchor="start" textLength="59.3" lengthAdjust="spacingAndGlyphs">GABPA motif</text>
<line x1="28.5" y1="522.5" x2="28.5" y2="428.5" stroke="#666" stroke-width="0.6"/>
<line x1="26.9" y1="522.5" x2="28.5" y2="522.5" stroke="#444" stroke-width="0.45"/>
<text transform="translate(23.3,522.5) rotate(-90)" font-size="4" fill="#333" text-anchor="middle">0</text>
<line x1="26.9" y1="499.0" x2="28.5" y2="499.0" stroke="#444" stroke-width="0.45"/>
<text transform="translate(23.3,499.0) rotate(-90)" font-size="4" fill="#333" text-anchor="middle">50</text>
<line x1="26.9" y1="475.5" x2="28.5" y2="475.5" stroke="#444" stroke-width="0.45"/>
<text transform="translate(23.3,475.5) rotate(-90)" font-size="4" fill="#333" text-anchor="middle">100</text>
<line x1="26.9" y1="452.0" x2="28.5" y2="452.0" stroke="#444" stroke-width="0.45"/>
<text transform="translate(23.3,452.0) rotate(-90)" font-size="4" fill="#333" text-anchor="middle">150</text>
<line x1="26.9" y1="428.5" x2="28.5" y2="428.5" stroke="#444" stroke-width="0.45"/>
<text transform="translate(23.3,428.5) rotate(-90)" font-size="4" fill="#333" text-anchor="middle">200</text>
<text transform="translate(14,475) rotate(-90)" font-size="3.8" font-weight="None" fill="#333" text-anchor="middle" textLength="18.5" lengthAdjust="spacingAndGlyphs">Frequency</text>
<line x1="45.8" y1="525.3" x2="142.39999999999998" y2="525.3" stroke="#444" stroke-width="0.5"/>
<line x1="45.8" y1="525.3" x2="45.8" y2="526.9" stroke="#444" stroke-width="0.45"/>
<text x="45.8" y="533.4" font-size="3.9" fill="#444" text-anchor="middle">&#8722;400</text>
<line x1="69.94999999999999" y1="525.3" x2="69.94999999999999" y2="526.9" stroke="#444" stroke-width="0.45"/>
<text x="69.94999999999999" y="533.4" font-size="3.9" fill="#444" text-anchor="middle">&#8722;200</text>
<line x1="94.1" y1="525.3" x2="94.1" y2="526.9" stroke="#444" stroke-width="0.45"/>
<text x="94.1" y="533.4" font-size="3.9" fill="#444" text-anchor="middle">0</text>
<line x1="118.25" y1="525.3" x2="118.25" y2="526.9" stroke="#444" stroke-width="0.45"/>
<text x="118.25" y="533.4" font-size="3.9" fill="#444" text-anchor="middle">200</text>
<line x1="142.39999999999998" y1="525.3" x2="142.39999999999998" y2="526.9" stroke="#444" stroke-width="0.45"/>
<text x="142.39999999999998" y="533.4" font-size="3.9" fill="#444" text-anchor="middle">400</text>
<text x="94.1" y="543.3" font-size="3.6" fill="#555" text-anchor="middle">pos</text>
<g fill="#cdcdcd" stroke="#7c7c7c" stroke-width="0.28"><rect x="33.72" y="515.13" width="1.21" height="7.37"/><rect x="34.93" y="510.65" width="1.21" height="11.85"/><rect x="36.14" y="511.06" width="1.21" height="11.44"/><rect x="37.35" y="510.98" width="1.21" height="11.52"/><rect x="38.55" y="504.81" width="1.21" height="17.69"/><rect x="39.76" y="506.13" width="1.21" height="16.37"/><rect x="40.97" y="511.89" width="1.21" height="10.61"/><rect x="42.18" y="510.43" width="1.21" height="12.07"/><rect x="43.38" y="511.79" width="1.21" height="10.71"/><rect x="44.59" y="508.08" width="1.21" height="14.42"/><rect x="45.80" y="508.65" width="1.21" height="13.85"/><rect x="47.01" y="511.76" width="1.21" height="10.74"/><rect x="48.21" y="510.90" width="1.21" height="11.60"/><rect x="49.42" y="511.75" width="1.21" height="10.75"/><rect x="50.63" y="511.36" width="1.21" height="11.14"/><rect x="51.84" y="512.51" width="1.21" height="9.99"/><rect x="53.04" y="509.02" width="1.21" height="13.48"/><rect x="54.25" y="511.77" width="1.21" height="10.73"/><rect x="55.46" y="512.58" width="1.21" height="9.92"/><rect x="56.67" y="510.18" width="1.21" height="12.32"/><rect x="57.87" y="510.35" width="1.21" height="12.15"/><rect x="59.08" y="511.77" width="1.21" height="10.73"/><rect x="60.29" y="513.90" width="1.21" height="8.60"/><rect x="61.50" y="514.30" width="1.21" height="8.20"/><rect x="62.70" y="513.57" width="1.21" height="8.93"/><rect x="63.91" y="517.49" width="1.21" height="5.01"/><rect x="65.12" y="515.53" width="1.21" height="6.97"/><rect x="66.33" y="509.87" width="1.21" height="12.63"/><rect x="67.53" y="512.12" width="1.21" height="10.38"/><rect x="68.74" y="511.74" width="1.21" height="10.76"/><rect x="69.95" y="508.37" width="1.21" height="14.13"/><rect x="71.16" y="507.88" width="1.21" height="14.62"/><rect x="72.36" y="511.94" width="1.21" height="10.56"/><rect x="73.57" y="510.98" width="1.21" height="11.52"/><rect x="74.78" y="512.76" width="1.21" height="9.74"/><rect x="75.99" y="511.61" width="1.21" height="10.89"/><rect x="77.19" y="512.21" width="1.21" height="10.29"/><rect x="78.40" y="514.05" width="1.21" height="8.45"/><rect x="79.61" y="511.61" width="1.21" height="10.89"/><rect x="80.82" y="511.42" width="1.21" height="11.08"/><rect x="82.02" y="510.13" width="1.21" height="12.37"/><rect x="83.23" y="511.37" width="1.21" height="11.13"/><rect x="84.44" y="505.28" width="1.21" height="17.22"/><rect x="85.65" y="506.05" width="1.21" height="16.45"/><rect x="86.85" y="496.16" width="1.21" height="26.34"/><rect x="88.06" y="500.21" width="1.21" height="22.29"/><rect x="89.27" y="489.48" width="1.21" height="33.02"/><rect x="90.48" y="464.02" width="1.21" height="58.48"/><rect x="91.68" y="427.36" width="1.21" height="95.14"/><rect x="92.89" y="426.61" width="1.21" height="95.89"/><rect x="94.10" y="437.00" width="1.21" height="85.50"/><rect x="95.31" y="461.80" width="1.21" height="60.70"/><rect x="96.52" y="476.54" width="1.21" height="45.96"/><rect x="97.72" y="490.80" width="1.21" height="31.70"/><rect x="98.93" y="497.66" width="1.21" height="24.84"/><rect x="100.14" y="498.85" width="1.21" height="23.65"/><rect x="101.34" y="506.14" width="1.21" height="16.36"/><rect x="102.55" y="511.07" width="1.21" height="11.43"/><rect x="103.76" y="511.21" width="1.21" height="11.29"/><rect x="104.97" y="508.24" width="1.21" height="14.26"/><rect x="106.17" y="510.72" width="1.21" height="11.78"/><rect x="107.38" y="511.90" width="1.21" height="10.60"/><rect x="108.59" y="510.44" width="1.21" height="12.06"/><rect x="109.80" y="512.93" width="1.21" height="9.57"/><rect x="111.00" y="517.37" width="1.21" height="5.13"/><rect x="112.21" y="517.89" width="1.21" height="4.61"/><rect x="113.42" y="515.09" width="1.21" height="7.41"/><rect x="114.63" y="512.42" width="1.21" height="10.08"/><rect x="115.83" y="514.54" width="1.21" height="7.96"/><rect x="117.04" y="513.80" width="1.21" height="8.70"/><rect x="118.25" y="512.84" width="1.21" height="9.66"/><rect x="119.46" y="515.80" width="1.21" height="6.70"/><rect x="120.66" y="516.40" width="1.21" height="6.10"/><rect x="121.87" y="515.29" width="1.21" height="7.21"/><rect x="123.08" y="509.40" width="1.21" height="13.10"/><rect x="124.29" y="514.64" width="1.21" height="7.86"/><rect x="125.49" y="514.24" width="1.21" height="8.26"/><rect x="126.70" y="511.35" width="1.21" height="11.15"/><rect x="127.91" y="509.77" width="1.21" height="12.73"/><rect x="129.12" y="513.03" width="1.21" height="9.47"/><rect x="130.32" y="513.61" width="1.21" height="8.89"/><rect x="131.53" y="515.73" width="1.21" height="6.77"/><rect x="132.74" y="516.85" width="1.21" height="5.65"/><rect x="133.95" y="511.93" width="1.21" height="10.57"/><rect x="135.16" y="514.02" width="1.21" height="8.48"/><rect x="136.36" y="513.62" width="1.21" height="8.88"/><rect x="137.57" y="512.40" width="1.21" height="10.10"/><rect x="138.78" y="511.85" width="1.21" height="10.65"/><rect x="139.98" y="511.46" width="1.21" height="11.04"/><rect x="141.19" y="512.38" width="1.21" height="10.12"/><rect x="142.40" y="508.14" width="1.21" height="14.36"/><rect x="143.61" y="509.21" width="1.21" height="13.29"/><rect x="144.81" y="509.95" width="1.21" height="12.55"/><rect x="146.02" y="511.30" width="1.21" height="11.20"/><rect x="147.23" y="512.60" width="1.21" height="9.90"/><rect x="148.44" y="512.49" width="1.21" height="10.01"/><rect x="149.64" y="502.77" width="1.21" height="19.73"/><rect x="150.85" y="503.99" width="1.21" height="18.51"/><rect x="152.06" y="510.84" width="1.21" height="11.66"/><rect x="153.27" y="512.11" width="1.21" height="10.39"/></g>
<line x1="212.2" y1="520.3" x2="212.2" y2="432.49999999999994" stroke="#666" stroke-width="0.6"/>
<line x1="210.6" y1="520.3" x2="212.2" y2="520.3" stroke="#444" stroke-width="0.45"/>
<text transform="translate(207.2,520.3) rotate(-90)" font-size="4" fill="#333" text-anchor="middle">0</text>
<line x1="210.6" y1="498.34999999999997" x2="212.2" y2="498.34999999999997" stroke="#444" stroke-width="0.45"/>
<text transform="translate(207.2,498.34999999999997) rotate(-90)" font-size="4" fill="#333" text-anchor="middle">20</text>
<line x1="210.6" y1="476.4" x2="212.2" y2="476.4" stroke="#444" stroke-width="0.45"/>
<text transform="translate(207.2,476.4) rotate(-90)" font-size="4" fill="#333" text-anchor="middle">40</text>
<line x1="210.6" y1="454.44999999999993" x2="212.2" y2="454.44999999999993" stroke="#444" stroke-width="0.45"/>
<text transform="translate(207.2,454.44999999999993) rotate(-90)" font-size="4" fill="#333" text-anchor="middle">60</text>
<line x1="210.6" y1="432.49999999999994" x2="212.2" y2="432.49999999999994" stroke="#444" stroke-width="0.45"/>
<text transform="translate(207.2,432.49999999999994) rotate(-90)" font-size="4" fill="#333" text-anchor="middle">80</text>
<text transform="translate(198.3,473.3) rotate(-90)" font-size="3.8" font-weight="None" fill="#333" text-anchor="middle" textLength="18.5" lengthAdjust="spacingAndGlyphs">Frequency</text>
<line x1="229.16" y1="523.9" x2="321.84000000000003" y2="523.9" stroke="#444" stroke-width="0.5"/>
<line x1="229.16" y1="523.9" x2="229.16" y2="525.5" stroke="#444" stroke-width="0.45"/>
<text x="229.16" y="532.0" font-size="3.9" fill="#444" text-anchor="middle">&#8722;400</text>
<line x1="252.32999999999998" y1="523.9" x2="252.32999999999998" y2="525.5" stroke="#444" stroke-width="0.45"/>
<text x="252.32999999999998" y="532.0" font-size="3.9" fill="#444" text-anchor="middle">&#8722;200</text>
<line x1="275.5" y1="523.9" x2="275.5" y2="525.5" stroke="#444" stroke-width="0.45"/>
<text x="275.5" y="532.0" font-size="3.9" fill="#444" text-anchor="middle">0</text>
<line x1="298.67" y1="523.9" x2="298.67" y2="525.5" stroke="#444" stroke-width="0.45"/>
<text x="298.67" y="532.0" font-size="3.9" fill="#444" text-anchor="middle">200</text>
<line x1="321.84000000000003" y1="523.9" x2="321.84000000000003" y2="525.5" stroke="#444" stroke-width="0.45"/>
<text x="321.84000000000003" y="532.0" font-size="3.9" fill="#444" text-anchor="middle">400</text>
<text x="275.5" y="539.4" font-size="3.6" fill="#555" text-anchor="middle">pos</text>
<g fill="#cdcdcd" stroke="#7c7c7c" stroke-width="0.28"><rect x="217.57" y="511.79" width="1.16" height="8.51"/><rect x="218.73" y="512.81" width="1.16" height="7.49"/><rect x="219.89" y="491.47" width="1.16" height="28.83"/><rect x="221.05" y="493.32" width="1.16" height="26.98"/><rect x="222.21" y="502.78" width="1.16" height="17.52"/><rect x="223.37" y="503.50" width="1.16" height="16.80"/><rect x="224.53" y="499.53" width="1.16" height="20.77"/><rect x="225.68" y="500.43" width="1.16" height="19.87"/><rect x="226.84" y="495.22" width="1.16" height="25.08"/><rect x="228.00" y="499.39" width="1.16" height="20.91"/><rect x="229.16" y="500.26" width="1.16" height="20.04"/><rect x="230.32" y="502.26" width="1.16" height="18.04"/><rect x="231.48" y="494.28" width="1.16" height="26.02"/><rect x="232.64" y="494.79" width="1.16" height="25.51"/><rect x="233.79" y="491.76" width="1.16" height="28.54"/><rect x="234.95" y="495.07" width="1.16" height="25.23"/><rect x="236.11" y="495.82" width="1.16" height="24.48"/><rect x="237.27" y="490.51" width="1.16" height="29.79"/><rect x="238.43" y="490.55" width="1.16" height="29.75"/><rect x="239.59" y="489.73" width="1.16" height="30.57"/><rect x="240.75" y="488.84" width="1.16" height="31.46"/><rect x="241.90" y="495.18" width="1.16" height="25.12"/><rect x="243.06" y="494.37" width="1.16" height="25.93"/><rect x="244.22" y="486.85" width="1.16" height="33.45"/><rect x="245.38" y="486.65" width="1.16" height="33.65"/><rect x="246.54" y="494.94" width="1.16" height="25.36"/><rect x="247.70" y="495.34" width="1.16" height="24.96"/><rect x="248.85" y="494.84" width="1.16" height="25.46"/><rect x="250.01" y="492.82" width="1.16" height="27.48"/><rect x="251.17" y="495.34" width="1.16" height="24.96"/><rect x="252.33" y="490.87" width="1.16" height="29.43"/><rect x="253.49" y="493.82" width="1.16" height="26.48"/><rect x="254.65" y="476.35" width="1.16" height="43.95"/><rect x="255.81" y="476.88" width="1.16" height="43.42"/><rect x="256.96" y="484.81" width="1.16" height="35.49"/><rect x="258.12" y="486.71" width="1.16" height="33.59"/><rect x="259.28" y="483.14" width="1.16" height="37.16"/><rect x="260.44" y="485.72" width="1.16" height="34.58"/><rect x="261.60" y="463.59" width="1.16" height="56.71"/><rect x="262.76" y="463.85" width="1.16" height="56.45"/><rect x="263.92" y="463.17" width="1.16" height="57.13"/><rect x="265.07" y="463.89" width="1.16" height="56.41"/><rect x="266.23" y="455.89" width="1.16" height="64.41"/><rect x="267.39" y="457.17" width="1.16" height="63.13"/><rect x="268.55" y="444.98" width="1.16" height="75.32"/><rect x="269.71" y="443.87" width="1.16" height="76.43"/><rect x="270.87" y="429.00" width="1.16" height="91.30"/><rect x="272.02" y="434.91" width="1.16" height="85.39"/><rect x="273.18" y="429.40" width="1.16" height="90.90"/><rect x="274.34" y="429.33" width="1.16" height="90.97"/><rect x="275.50" y="431.99" width="1.16" height="88.31"/><rect x="276.66" y="436.62" width="1.16" height="83.68"/><rect x="277.82" y="437.11" width="1.16" height="83.19"/><rect x="278.98" y="446.88" width="1.16" height="73.42"/><rect x="280.13" y="441.85" width="1.16" height="78.45"/><rect x="281.29" y="454.59" width="1.16" height="65.71"/><rect x="282.45" y="452.92" width="1.16" height="67.38"/><rect x="283.61" y="466.61" width="1.16" height="53.69"/><rect x="284.77" y="463.31" width="1.16" height="56.99"/><rect x="285.93" y="468.24" width="1.16" height="52.06"/><rect x="287.08" y="479.70" width="1.16" height="40.60"/><rect x="288.24" y="476.70" width="1.16" height="43.60"/><rect x="289.40" y="474.49" width="1.16" height="45.81"/><rect x="290.56" y="472.66" width="1.16" height="47.64"/><rect x="291.72" y="480.98" width="1.16" height="39.32"/><rect x="292.88" y="487.15" width="1.16" height="33.15"/><rect x="294.04" y="490.74" width="1.16" height="29.56"/><rect x="295.19" y="489.46" width="1.16" height="30.84"/><rect x="296.35" y="494.12" width="1.16" height="26.18"/><rect x="297.51" y="495.27" width="1.16" height="25.03"/><rect x="298.67" y="479.51" width="1.16" height="40.79"/><rect x="299.83" y="497.45" width="1.16" height="22.85"/><rect x="300.99" y="498.63" width="1.16" height="21.67"/><rect x="302.15" y="500.86" width="1.16" height="19.44"/><rect x="303.30" y="504.06" width="1.16" height="16.24"/><rect x="304.46" y="482.57" width="1.16" height="37.73"/><rect x="305.62" y="481.04" width="1.16" height="39.26"/><rect x="306.78" y="492.66" width="1.16" height="27.64"/><rect x="307.94" y="494.35" width="1.16" height="25.95"/><rect x="309.10" y="493.72" width="1.16" height="26.58"/><rect x="310.25" y="491.08" width="1.16" height="29.22"/><rect x="311.41" y="489.00" width="1.16" height="31.30"/><rect x="312.57" y="489.28" width="1.16" height="31.02"/><rect x="313.73" y="490.75" width="1.16" height="29.55"/><rect x="314.89" y="496.84" width="1.16" height="23.46"/><rect x="316.05" y="492.75" width="1.16" height="27.55"/><rect x="317.21" y="500.72" width="1.16" height="19.58"/><rect x="318.36" y="499.20" width="1.16" height="21.10"/><rect x="319.52" y="509.81" width="1.16" height="10.49"/><rect x="320.68" y="510.60" width="1.16" height="9.70"/><rect x="321.84" y="502.07" width="1.16" height="18.23"/><rect x="323.00" y="507.73" width="1.16" height="12.57"/><rect x="324.16" y="505.84" width="1.16" height="14.46"/><rect x="325.32" y="488.22" width="1.16" height="32.08"/><rect x="326.47" y="493.06" width="1.16" height="27.24"/><rect x="327.63" y="507.61" width="1.16" height="12.69"/><rect x="328.79" y="507.33" width="1.16" height="12.97"/><rect x="329.95" y="496.50" width="1.16" height="23.80"/><rect x="331.11" y="491.78" width="1.16" height="28.52"/><rect x="332.27" y="504.89" width="1.16" height="15.41"/></g>
<text x="1.3" y="567.2" font-size="13.5" font-weight="bold" fill="#000" stroke="#000" stroke-width="0.18" text-anchor="start">I</text>
<line x1="54.6" y1="565.1" x2="54.6" y2="645" stroke="#000" stroke-width="1.3"/>
<line x1="54.8" y1="645" x2="157.7" y2="645" stroke="#000" stroke-width="1.3"/>
<line x1="52.5" y1="645.0" x2="54.8" y2="645.0" stroke="#000" stroke-width="0.8"/>
<text x="48.9" y="647.8" font-size="8" font-weight="bold" fill="#000" stroke="#000" stroke-width="0.18" text-anchor="end" textLength="4.1" lengthAdjust="spacingAndGlyphs">0</text>
<line x1="52.5" y1="631.7" x2="54.8" y2="631.7" stroke="#000" stroke-width="0.8"/>
<text x="48.9" y="634.5" font-size="8" font-weight="bold" fill="#000" stroke="#000" stroke-width="0.18" text-anchor="end" textLength="8.3" lengthAdjust="spacingAndGlyphs">50</text>
<line x1="52.5" y1="618.4" x2="54.8" y2="618.4" stroke="#000" stroke-width="0.8"/>
<text x="48.9" y="621.1999999999999" font-size="8" font-weight="bold" fill="#000" stroke="#000" stroke-width="0.18" text-anchor="end" textLength="12.4" lengthAdjust="spacingAndGlyphs">100</text>
<line x1="52.5" y1="605.1" x2="54.8" y2="605.1" stroke="#000" stroke-width="0.8"/>
<text x="48.9" y="607.9" font-size="8" font-weight="bold" fill="#000" stroke="#000" stroke-width="0.18" text-anchor="end" textLength="12.4" lengthAdjust="spacingAndGlyphs">150</text>
<line x1="52.5" y1="591.8" x2="54.8" y2="591.8" stroke="#000" stroke-width="0.8"/>
<text x="48.9" y="594.5999999999999" font-size="8" font-weight="bold" fill="#000" stroke="#000" stroke-width="0.18" text-anchor="end" textLength="12.4" lengthAdjust="spacingAndGlyphs">200</text>
<line x1="52.5" y1="578.5" x2="54.8" y2="578.5" stroke="#000" stroke-width="0.8"/>
<text x="48.9" y="581.3" font-size="8" font-weight="bold" fill="#000" stroke="#000" stroke-width="0.18" text-anchor="end" textLength="12.4" lengthAdjust="spacingAndGlyphs">250</text>
<line x1="52.5" y1="565.2" x2="54.8" y2="565.2" stroke="#000" stroke-width="0.8"/>
<text x="48.9" y="568.0" font-size="8" font-weight="bold" fill="#000" stroke="#000" stroke-width="0.18" text-anchor="end" textLength="12.4" lengthAdjust="spacingAndGlyphs">300</text>
<line x1="106.5" y1="645" x2="106.5" y2="647" stroke="#000" stroke-width="0.8"/>
<text transform="translate(27.6,601.3) rotate(-90)" font-size="8.6" font-weight="bold" fill="#000" text-anchor="middle" textLength="66.3" lengthAdjust="spacingAndGlyphs">Luciferase activity</text>
<rect x="72.2" y="624.6" width="8.6" height="20.399999999999977" fill="#ee7618"/>
<rect x="90.6" y="584.7" width="9" height="60.299999999999955" fill="#2f5fa0"/>
<line x1="95.1" y1="581.5" x2="95.1" y2="584.7" stroke="#2f5fa0" stroke-width="0.8"/>
<line x1="93.8" y1="581.5" x2="96.4" y2="581.5" stroke="#2f5fa0" stroke-width="0.6"/>
<rect x="113.5" y="641.8" width="8" height="3.2000000000000455" fill="#f0c0c0"/>
<rect x="122.8" y="630.5" width="8.7" height="14.5" fill="#ee7618"/>
<rect x="141.2" y="631.5" width="8.8" height="13.5" fill="#2f5fa0"/>
<text x="66.2" y="643" font-size="7" font-weight="bold" fill="#000" stroke="#000" stroke-width="0.18" text-anchor="start" textLength="3.4" lengthAdjust="spacingAndGlyphs">0</text>
<text x="77.5" y="622.7" font-size="7" font-weight="bold" fill="#000" stroke="#000" stroke-width="0.18" text-anchor="start" textLength="7.1" lengthAdjust="spacingAndGlyphs">75</text>
<text x="84" y="643" font-size="7" font-weight="bold" fill="#000" stroke="#000" stroke-width="0.18" text-anchor="start" textLength="3.2" lengthAdjust="spacingAndGlyphs">0</text>
<text x="95.8" y="579.8" font-size="7" font-weight="bold" fill="#000" stroke="#000" stroke-width="0.18" text-anchor="start" textLength="9.4" lengthAdjust="spacingAndGlyphs">226</text>
<text x="116.8" y="640" font-size="7" font-weight="bold" fill="#000" stroke="#000" stroke-width="0.18" text-anchor="start" textLength="2.9" lengthAdjust="spacingAndGlyphs">9</text>
<text x="128.5" y="627.8" font-size="7" font-weight="bold" fill="#000" stroke="#000" stroke-width="0.18" text-anchor="start" textLength="6.1" lengthAdjust="spacingAndGlyphs">55</text>
<text x="134.2" y="641.6" font-size="7" font-weight="bold" fill="#000" stroke="#000" stroke-width="0.18" text-anchor="start" textLength="2.9" lengthAdjust="spacingAndGlyphs">4</text>
<text x="147.4" y="629.3" font-size="7" font-weight="bold" fill="#000" stroke="#000" stroke-width="0.18" text-anchor="start" textLength="6.1" lengthAdjust="spacingAndGlyphs">50</text>
<text x="72" y="653.4" font-size="7.2" font-weight="bold" fill="#000" stroke="#000" stroke-width="0.18" text-anchor="middle">F</text>
<text x="89.6" y="653.4" font-size="7.2" font-weight="bold" fill="#000" stroke="#000" stroke-width="0.18" text-anchor="middle">R</text>
<text x="122.9" y="653.4" font-size="7.2" font-weight="bold" fill="#000" stroke="#000" stroke-width="0.18" text-anchor="middle">F</text>
<text x="139.9" y="653.4" font-size="7.2" font-weight="bold" fill="#000" stroke="#000" stroke-width="0.18" text-anchor="middle">R</text>
<line x1="62.9" y1="656.0" x2="79.3" y2="656.0" stroke="#4a3f3f" stroke-width="1.25"/>
<line x1="82.2" y1="656.0" x2="98.4" y2="656.0" stroke="#4a3f3f" stroke-width="1.25"/>
<line x1="113" y1="656.0" x2="130" y2="656.0" stroke="#4a3f3f" stroke-width="1.25"/>
<line x1="132" y1="656.0" x2="149.2" y2="656.0" stroke="#4a3f3f" stroke-width="1.25"/>
<text x="60.8" y="666.6" font-size="7" font-weight="bold" fill="#000" stroke="#000" stroke-width="0.18" text-anchor="end" textLength="23.8" lengthAdjust="spacingAndGlyphs">Sox4-RE</text>
<text x="60.3" y="677.8" font-size="7" font-weight="bold" fill="#000" stroke="#000" stroke-width="0.18" text-anchor="end" textLength="30.3" lengthAdjust="spacingAndGlyphs">GABPA-RE</text>
<text x="60.8" y="687.2" font-size="7" font-weight="bold" fill="#000" stroke="#000" stroke-width="0.18" text-anchor="end" textLength="13.4" lengthAdjust="spacingAndGlyphs">Sox4</text>
<text x="67.7" y="666.2" font-size="7.5" font-weight="bold" fill="#000" stroke="#000" stroke-width="0.18" text-anchor="middle">+</text>
<text x="76" y="666.2" font-size="7.5" font-weight="bold" fill="#000" stroke="#000" stroke-width="0.18" text-anchor="middle">+</text>
<text x="85" y="666.2" font-size="7.5" font-weight="bold" fill="#000" stroke="#000" stroke-width="0.18" text-anchor="middle">+</text>
<text x="94.3" y="666.2" font-size="7.5" font-weight="bold" fill="#000" stroke="#000" stroke-width="0.18" text-anchor="middle">+</text>
<text x="117.7" y="666.2" font-size="7" font-weight="bold" fill="#000" stroke="#000" stroke-width="0.18" text-anchor="middle">-</text>
<text x="127" y="666.2" font-size="7" font-weight="bold" fill="#000" stroke="#000" stroke-width="0.18" text-anchor="middle">-</text>
<text x="136.2" y="666.2" font-size="7" font-weight="bold" fill="#000" stroke="#000" stroke-width="0.18" text-anchor="middle">-</text>
<text x="145.4" y="666.2" font-size="7" font-weight="bold" fill="#000" stroke="#000" stroke-width="0.18" text-anchor="middle">-</text>
<text x="67.7" y="677.3" font-size="7" font-weight="bold" fill="#000" stroke="#000" stroke-width="0.18" text-anchor="middle">-</text>
<text x="76" y="677.3" font-size="7" font-weight="bold" fill="#000" stroke="#000" stroke-width="0.18" text-anchor="middle">-</text>
<text x="85" y="677.3" font-size="7" font-weight="bold" fill="#000" stroke="#000" stroke-width="0.18" text-anchor="middle">-</text>
<text x="94.3" y="677.3" font-size="7" font-weight="bold" fill="#000" stroke="#000" stroke-width="0.18" text-anchor="middle">-</text>
<text x="117.7" y="677.3" font-size="7.5" font-weight="bold" fill="#000" stroke="#000" stroke-width="0.18" text-anchor="middle">+</text>
<text x="127" y="677.3" font-size="7.5" font-weight="bold" fill="#000" stroke="#000" stroke-width="0.18" text-anchor="middle">+</text>
<text x="136.2" y="677.3" font-size="7.5" font-weight="bold" fill="#000" stroke="#000" stroke-width="0.18" text-anchor="middle">+</text>
<text x="145.4" y="677.3" font-size="7.5" font-weight="bold" fill="#000" stroke="#000" stroke-width="0.18" text-anchor="middle">+</text>
<text x="67.7" y="687.3" font-size="7" font-weight="bold" fill="#000" stroke="#000" stroke-width="0.18" text-anchor="middle">-</text>
<text x="76" y="687.3" font-size="7.5" font-weight="bold" fill="#000" stroke="#000" stroke-width="0.18" text-anchor="middle">+</text>
<text x="85" y="687.3" font-size="7" font-weight="bold" fill="#000" stroke="#000" stroke-width="0.18" text-anchor="middle">-</text>
<text x="94.3" y="687.3" font-size="7.5" font-weight="bold" fill="#000" stroke="#000" stroke-width="0.18" text-anchor="middle">+</text>
<text x="117.7" y="687.3" font-size="7" font-weight="bold" fill="#000" stroke="#000" stroke-width="0.18" text-anchor="middle">-</text>
<text x="127" y="687.3" font-size="7.5" font-weight="bold" fill="#000" stroke="#000" stroke-width="0.18" text-anchor="middle">+</text>
<text x="136.2" y="687.3" font-size="7" font-weight="bold" fill="#000" stroke="#000" stroke-width="0.18" text-anchor="middle">-</text>
<text x="145.4" y="687.3" font-size="7.5" font-weight="bold" fill="#000" stroke="#000" stroke-width="0.18" text-anchor="middle">+</text>
<text x="182.8" y="568.5" font-size="14" font-weight="bold" fill="#000" stroke="#000" stroke-width="0.18" text-anchor="start">J</text>
<line x1="212.8" y1="558.8" x2="212.8" y2="671.2" stroke="#000" stroke-width="0.7"/>
<line x1="212.3" y1="671.2" x2="368.2" y2="671.2" stroke="#000" stroke-width="0.7"/>
<line x1="211.3" y1="671.2" x2="212.8" y2="671.2" stroke="#000" stroke-width="0.5"/>
<text x="210.3" y="672.7" font-size="4.2" font-weight="bold" fill="#000" text-anchor="end">0</text>
<line x1="211.3" y1="659.96" x2="212.8" y2="659.96" stroke="#000" stroke-width="0.5"/>
<text x="210.3" y="661.46" font-size="4.2" font-weight="bold" fill="#000" text-anchor="end">0.1</text>
<line x1="211.3" y1="648.72" x2="212.8" y2="648.72" stroke="#000" stroke-width="0.5"/>
<text x="210.3" y="650.22" font-size="4.2" font-weight="bold" fill="#000" text-anchor="end">0.2</text>
<line x1="211.3" y1="637.48" x2="212.8" y2="637.48" stroke="#000" stroke-width="0.5"/>
<text x="210.3" y="638.98" font-size="4.2" font-weight="bold" fill="#000" text-anchor="end">0.3</text>
<line x1="211.3" y1="626.24" x2="212.8" y2="626.24" stroke="#000" stroke-width="0.5"/>
<text x="210.3" y="627.74" font-size="4.2" font-weight="bold" fill="#000" text-anchor="end">0.4</text>
<line x1="211.3" y1="615.0" x2="212.8" y2="615.0" stroke="#000" stroke-width="0.5"/>
<text x="210.3" y="616.5" font-size="4.2" font-weight="bold" fill="#000" text-anchor="end">0.5</text>
<line x1="211.3" y1="603.76" x2="212.8" y2="603.76" stroke="#000" stroke-width="0.5"/>
<text x="210.3" y="605.26" font-size="4.2" font-weight="bold" fill="#000" text-anchor="end">0.6</text>
<line x1="211.3" y1="592.52" x2="212.8" y2="592.52" stroke="#000" stroke-width="0.5"/>
<text x="210.3" y="594.02" font-size="4.2" font-weight="bold" fill="#000" text-anchor="end">0.7</text>
<line x1="211.3" y1="581.28" x2="212.8" y2="581.28" stroke="#000" stroke-width="0.5"/>
<text x="210.3" y="582.78" font-size="4.2" font-weight="bold" fill="#000" text-anchor="end">0.8</text>
<line x1="211.3" y1="570.0400000000001" x2="212.8" y2="570.0400000000001" stroke="#000" stroke-width="0.5"/>
<text x="210.3" y="571.5400000000001" font-size="4.2" font-weight="bold" fill="#000" text-anchor="end">0.9</text>
<line x1="211.3" y1="558.8000000000001" x2="212.8" y2="558.8000000000001" stroke="#000" stroke-width="0.5"/>
<text x="210.3" y="560.3000000000001" font-size="4.2" font-weight="bold" fill="#000" text-anchor="end">1</text>
<line x1="212.45000000000002" y1="671.2" x2="212.45000000000002" y2="672.8" stroke="#000" stroke-width="0.5"/>
<text x="212.45000000000002" y="677.9" font-size="4.1" font-weight="bold" fill="#000" text-anchor="middle">&#8722;10000</text>
<line x1="228.02" y1="671.2" x2="228.02" y2="672.8" stroke="#000" stroke-width="0.5"/>
<text x="228.02" y="677.9" font-size="4.1" font-weight="bold" fill="#000" text-anchor="middle">&#8722;8000</text>
<line x1="243.59" y1="671.2" x2="243.59" y2="672.8" stroke="#000" stroke-width="0.5"/>
<text x="243.59" y="677.9" font-size="4.1" font-weight="bold" fill="#000" text-anchor="middle">&#8722;6000</text>
<line x1="259.16" y1="671.2" x2="259.16" y2="672.8" stroke="#000" stroke-width="0.5"/>
<text x="259.16" y="677.9" font-size="4.1" font-weight="bold" fill="#000" text-anchor="middle">&#8722;4000</text>
<line x1="274.73" y1="671.2" x2="274.73" y2="672.8" stroke="#000" stroke-width="0.5"/>
<text x="274.73" y="677.9" font-size="4.1" font-weight="bold" fill="#000" text-anchor="middle">&#8722;2000</text>
<line x1="290.3" y1="671.2" x2="290.3" y2="672.8" stroke="#000" stroke-width="0.5"/>
<text x="290.3" y="677.9" font-size="4.1" font-weight="bold" fill="#000" text-anchor="middle">0</text>
<line x1="305.87" y1="671.2" x2="305.87" y2="672.8" stroke="#000" stroke-width="0.5"/>
<text x="305.87" y="677.9" font-size="4.1" font-weight="bold" fill="#000" text-anchor="middle">2000</text>
<line x1="321.44" y1="671.2" x2="321.44" y2="672.8" stroke="#000" stroke-width="0.5"/>
<text x="321.44" y="677.9" font-size="4.1" font-weight="bold" fill="#000" text-anchor="middle">4000</text>
<line x1="337.01" y1="671.2" x2="337.01" y2="672.8" stroke="#000" stroke-width="0.5"/>
<text x="337.01" y="677.9" font-size="4.1" font-weight="bold" fill="#000" text-anchor="middle">6000</text>
<line x1="352.58000000000004" y1="671.2" x2="352.58000000000004" y2="672.8" stroke="#000" stroke-width="0.5"/>
<text x="352.58000000000004" y="677.9" font-size="4.1" font-weight="bold" fill="#000" text-anchor="middle">8000</text>
<line x1="368.15" y1="671.2" x2="368.15" y2="672.8" stroke="#000" stroke-width="0.5"/>
<text x="368.15" y="677.9" font-size="4.1" font-weight="bold" fill="#000" text-anchor="middle">10000</text>
<text transform="translate(196,614.2) rotate(-90)" font-size="7.2" font-weight="bold" fill="#000" text-anchor="middle" textLength="48.8" lengthAdjust="spacingAndGlyphs">Relative RPKM</text>
<text x="262.6" y="687.3" font-size="6.8" font-weight="bold" fill="#000" stroke="#000" stroke-width="0.18" text-anchor="start" textLength="62.4" lengthAdjust="spacingAndGlyphs">Distance from TSS</text>
<line x1="315.5" y1="571.8" x2="321.9" y2="571.8" stroke="#7b9bd0" stroke-width="0.9"/>
<text x="325" y="573.6999999999999" font-size="5.2" font-weight="bold" fill="#000" stroke="#000" stroke-width="0.18" text-anchor="start" textLength="20.7" lengthAdjust="spacingAndGlyphs">High FC</text>
<line x1="315.5" y1="580.4499999999999" x2="321.9" y2="580.4499999999999" stroke="#a08a8a" stroke-width="0.9"/>
<text x="325" y="582.3499999999999" font-size="5.2" font-weight="bold" fill="#000" stroke="#000" stroke-width="0.18" text-anchor="start" textLength="41" lengthAdjust="spacingAndGlyphs">Intermediate FC</text>
<line x1="315.5" y1="589.0999999999999" x2="321.9" y2="589.0999999999999" stroke="#cfc6a6" stroke-width="0.9"/>
<text x="325" y="590.9999999999999" font-size="5.2" font-weight="bold" fill="#000" stroke="#000" stroke-width="0.18" text-anchor="start" textLength="19.4" lengthAdjust="spacingAndGlyphs">Low FC</text>
<path d="M212.45,667.11 L212.84,666.49 L213.23,667.16 L213.62,666.66 L214.01,666.94 L214.40,667.13 L214.79,666.18 L215.17,666.39 L215.56,666.64 L215.95,666.43 L216.34,666.07 L216.73,666.41 L217.12,666.34 L217.51,667.08 L217.90,667.28 L218.29,667.47 L218.68,668.05 L219.07,668.54 L219.46,668.95 L219.85,668.53 L220.24,668.20 L220.62,668.05 L221.01,667.75 L221.40,668.24 L221.79,667.96 L222.18,667.60 L222.57,667.08 L222.96,667.53 L223.35,667.62 L223.74,668.50 L224.13,668.35 L224.52,669.10 L224.91,669.24 L225.30,668.05 L225.68,668.90 L226.07,667.97 L226.46,667.56 L226.85,667.60 L227.24,667.23 L227.63,666.94 L228.02,666.48 L228.41,666.80 L228.80,667.20 L229.19,667.49 L229.58,667.89 L229.97,667.69 L230.36,667.93 L230.74,667.15 L231.13,668.10 L231.52,668.37 L231.91,668.49 L232.30,669.14 L232.69,667.58 L233.08,668.67 L233.47,668.36 L233.86,668.26 L234.25,667.09 L234.64,668.11 L235.03,667.28 L235.42,667.61 L235.81,667.55 L236.19,667.77 L236.58,667.26 L236.97,667.80 L237.36,667.65 L237.75,667.32 L238.14,666.34 L238.53,667.80 L238.92,666.83 L239.31,666.45 L239.70,666.90 L240.09,666.82 L240.48,667.16 L240.87,666.32 L241.25,666.46 L241.64,666.78 L242.03,667.01 L242.42,667.15 L242.81,667.24 L243.20,667.66 L243.59,666.46 L243.98,667.64 L244.37,669.31 L244.76,668.73 L245.15,668.33 L245.54,667.78 L245.93,667.70 L246.31,667.61 L246.70,667.30 L247.09,666.76 L247.48,667.10 L247.87,667.30 L248.26,666.27 L248.65,666.27 L249.04,667.03 L249.43,665.89 L249.82,665.87 L250.21,666.55 L250.60,667.32 L250.99,667.11 L251.38,667.54 L251.76,667.95 L252.15,668.36 L252.54,668.25 L252.93,667.35 L253.32,667.51 L253.71,668.13 L254.10,667.49 L254.49,667.35 L254.88,666.85 L255.27,666.32 L255.66,666.65 L256.05,666.86 L256.44,666.96 L256.82,667.58 L257.21,667.10 L257.60,666.41 L257.99,666.53 L258.38,666.82 L258.77,667.03 L259.16,667.45 L259.55,667.75 L259.94,667.75 L260.33,667.97 L260.72,667.93 L261.11,668.47 L261.50,667.87 L261.88,667.60 L262.27,668.02 L262.66,668.89 L263.05,668.34 L263.44,667.39 L263.83,667.65 L264.22,667.70 L264.61,667.78 L265.00,667.22 L265.39,667.61 L265.78,666.92 L266.17,667.09 L266.56,666.58 L266.94,666.67 L267.33,666.87 L267.72,667.63 L268.11,667.76 L268.50,667.62 L268.89,667.06 L269.28,666.87 L269.67,667.21 L270.06,666.88 L270.45,666.35 L270.84,666.55 L271.23,666.82 L271.62,666.99 L272.01,666.48 L272.39,666.26 L272.78,666.83 L273.17,666.57 L273.56,666.80 L273.95,667.09 L274.34,666.27 L274.73,665.90 L275.12,666.40 L275.51,666.33 L275.90,666.06 L276.29,666.42 L276.68,666.40 L277.07,665.96 L277.45,666.88 L277.84,666.42 L278.23,665.87 L278.62,665.58 L279.01,666.28 L279.40,665.89 L279.79,666.17 L280.18,665.59 L280.57,665.11 L280.96,664.88 L281.35,665.11 L281.74,665.05 L282.13,664.09 L282.51,664.07 L282.90,663.05 L283.29,661.95 L283.68,661.10 L284.07,658.57 L284.46,657.30 L284.85,654.57 L285.24,653.89 L285.63,652.56 L286.02,649.01 L286.41,645.69 L286.80,642.89 L287.19,639.92 L287.58,638.05 L287.96,635.54 L288.35,633.65 L288.74,631.80 L289.13,630.07 L289.52,630.12 L289.91,631.00 L290.30,633.08 L290.69,635.42 L291.08,637.84 L291.47,640.77 L291.86,643.04 L292.25,646.61 L292.64,648.52 L293.02,651.98 L293.41,653.93 L293.80,656.66 L294.19,657.69 L294.58,659.43 L294.97,660.70 L295.36,661.54 L295.75,662.92 L296.14,664.16 L296.53,665.57 L296.92,664.95 L297.31,665.51 L297.70,665.88 L298.09,665.87 L298.47,664.87 L298.86,666.07 L299.25,665.92 L299.64,666.17 L300.03,665.89 L300.42,666.89 L300.81,666.90 L301.20,666.30 L301.59,665.53 L301.98,664.98 L302.37,665.86 L302.76,666.02 L303.15,666.23 L303.53,667.03 L303.92,667.63 L304.31,666.95 L304.70,666.74 L305.09,666.80 L305.48,666.16 L305.87,666.85 L306.26,666.56 L306.65,666.63 L307.04,666.72 L307.43,666.51 L307.82,666.52 L308.21,666.49 L308.59,666.48 L308.98,665.63 L309.37,666.18 L309.76,665.89 L310.15,665.90 L310.54,666.40 L310.93,666.17 L311.32,666.85 L311.71,666.31 L312.10,666.93 L312.49,667.20 L312.88,666.98 L313.27,666.58 L313.66,666.26 L314.04,666.04 L314.43,666.45 L314.82,667.12 L315.21,666.82 L315.60,666.74 L315.99,667.32 L316.38,666.76 L316.77,666.76 L317.16,667.34 L317.55,667.04 L317.94,667.73 L318.33,667.98 L318.72,667.52 L319.10,668.18 L319.49,667.84 L319.88,668.30 L320.27,667.57 L320.66,667.81 L321.05,667.51 L321.44,668.15 L321.83,668.02 L322.22,667.27 L322.61,667.00 L323.00,667.97 L323.39,667.25 L323.78,666.76 L324.16,667.06 L324.55,666.37 L324.94,667.13 L325.33,667.18 L325.72,666.60 L326.11,666.10 L326.50,665.76 L326.89,666.73 L327.28,667.75 L327.67,667.37 L328.06,668.03 L328.45,667.83 L328.84,668.27 L329.23,667.40 L329.61,666.91 L330.00,666.70 L330.39,666.83 L330.78,666.90 L331.17,667.12 L331.56,666.94 L331.95,666.87 L332.34,666.72 L332.73,667.07 L333.12,666.13 L333.51,666.29 L333.90,665.85 L334.29,665.56 L334.67,666.48 L335.06,667.54 L335.45,666.79 L335.84,667.09 L336.23,667.07 L336.62,667.22 L337.01,667.14 L337.40,667.74 L337.79,667.62 L338.18,667.71 L338.57,667.55 L338.96,668.61 L339.35,667.76 L339.73,667.41 L340.12,668.21 L340.51,668.26 L340.90,667.91 L341.29,667.37 L341.68,667.30 L342.07,666.56 L342.46,666.72 L342.85,667.36 L343.24,667.64 L343.63,667.12 L344.02,667.44 L344.41,666.93 L344.80,666.48 L345.18,666.38 L345.57,666.10 L345.96,666.50 L346.35,666.70 L346.74,667.14 L347.13,667.45 L347.52,668.15 L347.91,668.13 L348.30,668.38 L348.69,668.74 L349.08,668.19 L349.47,667.65 L349.86,667.67 L350.24,666.82 L350.63,666.45 L351.02,666.13 L351.41,666.74 L351.80,667.62 L352.19,667.20 L352.58,667.03 L352.97,666.70 L353.36,666.62 L353.75,666.15 L354.14,666.59 L354.53,666.42 L354.92,667.10 L355.30,668.28 L355.69,668.17 L356.08,667.11 L356.47,667.97 L356.86,667.21 L357.25,667.54 L357.64,667.62 L358.03,667.46 L358.42,667.26 L358.81,667.72 L359.20,667.49 L359.59,667.16 L359.98,666.74 L360.37,667.24 L360.75,666.43 L361.14,665.68 L361.53,664.90 L361.92,666.26 L362.31,666.44 L362.70,667.59 L363.09,667.27 L363.48,666.95 L363.87,667.60 L364.26,668.27 L364.65,667.84 L365.04,667.31 L365.43,667.67 L365.81,667.65 L366.20,668.78 L366.59,668.65 L366.98,668.12 L367.37,667.76 L367.76,666.77 L368.15,667.47" fill="none" stroke="#d2c089" stroke-width="0.85" stroke-linejoin="round"/>
<path d="M212.45,664.70 L212.84,665.54 L213.23,665.48 L213.62,665.59 L214.01,665.24 L214.40,666.37 L214.79,666.56 L215.17,666.90 L215.56,667.34 L215.95,667.50 L216.34,667.41 L216.73,667.21 L217.12,667.45 L217.51,666.80 L217.90,666.94 L218.29,668.68 L218.68,667.18 L219.07,667.11 L219.46,667.28 L219.85,666.77 L220.24,666.44 L220.62,666.32 L221.01,666.79 L221.40,666.48 L221.79,667.33 L222.18,666.08 L222.57,666.88 L222.96,666.79 L223.35,666.58 L223.74,666.31 L224.13,666.41 L224.52,666.03 L224.91,668.31 L225.30,667.81 L225.68,667.49 L226.07,667.43 L226.46,666.18 L226.85,666.85 L227.24,666.77 L227.63,667.92 L228.02,667.30 L228.41,668.04 L228.80,668.53 L229.19,666.43 L229.58,665.99 L229.97,666.12 L230.36,666.10 L230.74,667.09 L231.13,667.54 L231.52,666.94 L231.91,668.10 L232.30,667.43 L232.69,668.21 L233.08,667.59 L233.47,667.94 L233.86,666.38 L234.25,665.75 L234.64,666.27 L235.03,667.50 L235.42,667.67 L235.81,667.33 L236.19,667.67 L236.58,667.12 L236.97,666.28 L237.36,666.36 L237.75,666.65 L238.14,666.08 L238.53,666.37 L238.92,665.85 L239.31,666.22 L239.70,665.26 L240.09,665.78 L240.48,666.63 L240.87,666.50 L241.25,666.87 L241.64,667.32 L242.03,667.13 L242.42,666.44 L242.81,667.79 L243.20,667.40 L243.59,667.19 L243.98,667.05 L244.37,666.35 L244.76,667.18 L245.15,666.53 L245.54,666.63 L245.93,666.49 L246.31,666.60 L246.70,666.74 L247.09,666.96 L247.48,666.53 L247.87,665.16 L248.26,664.86 L248.65,664.77 L249.04,664.90 L249.43,665.63 L249.82,665.47 L250.21,664.43 L250.60,665.80 L250.99,665.44 L251.38,665.07 L251.76,665.27 L252.15,665.08 L252.54,664.58 L252.93,663.70 L253.32,663.66 L253.71,663.41 L254.10,664.06 L254.49,664.20 L254.88,664.70 L255.27,664.98 L255.66,665.65 L256.05,665.40 L256.44,664.73 L256.82,665.28 L257.21,665.40 L257.60,665.24 L257.99,665.51 L258.38,665.12 L258.77,665.28 L259.16,666.27 L259.55,666.88 L259.94,666.20 L260.33,665.79 L260.72,665.20 L261.11,665.31 L261.50,665.42 L261.88,666.60 L262.27,665.57 L262.66,666.30 L263.05,665.57 L263.44,666.42 L263.83,666.72 L264.22,666.41 L264.61,666.55 L265.00,666.81 L265.39,666.00 L265.78,665.56 L266.17,665.42 L266.56,665.78 L266.94,666.32 L267.33,666.48 L267.72,666.62 L268.11,666.39 L268.50,665.73 L268.89,665.84 L269.28,666.30 L269.67,666.51 L270.06,665.46 L270.45,665.41 L270.84,665.32 L271.23,665.21 L271.62,664.93 L272.01,665.00 L272.39,664.39 L272.78,664.18 L273.17,666.28 L273.56,666.05 L273.95,663.96 L274.34,665.11 L274.73,665.01 L275.12,664.33 L275.51,664.50 L275.90,663.77 L276.29,664.84 L276.68,665.56 L277.07,665.37 L277.45,665.55 L277.84,665.85 L278.23,664.99 L278.62,664.54 L279.01,664.34 L279.40,664.39 L279.79,663.95 L280.18,663.79 L280.57,663.95 L280.96,663.15 L281.35,662.51 L281.74,662.00 L282.13,660.97 L282.51,660.99 L282.90,659.91 L283.29,658.79 L283.68,656.12 L284.07,653.88 L284.46,650.28 L284.85,646.92 L285.24,644.47 L285.63,641.82 L286.02,637.54 L286.41,633.59 L286.80,629.38 L287.19,625.77 L287.58,621.17 L287.96,617.44 L288.35,614.21 L288.74,611.85 L289.13,611.11 L289.52,612.62 L289.91,613.91 L290.30,616.33 L290.69,619.40 L291.08,622.13 L291.47,626.20 L291.86,629.50 L292.25,633.96 L292.64,637.97 L293.02,641.90 L293.41,645.34 L293.80,649.71 L294.19,651.87 L294.58,654.40 L294.97,657.16 L295.36,658.33 L295.75,659.48 L296.14,659.82 L296.53,660.48 L296.92,661.23 L297.31,663.04 L297.70,662.31 L298.09,661.94 L298.47,662.16 L298.86,662.53 L299.25,662.36 L299.64,663.55 L300.03,663.44 L300.42,663.81 L300.81,664.73 L301.20,664.55 L301.59,664.46 L301.98,663.58 L302.37,663.45 L302.76,664.96 L303.15,666.25 L303.53,666.01 L303.92,665.93 L304.31,666.35 L304.70,666.97 L305.09,666.64 L305.48,667.02 L305.87,667.00 L306.26,666.05 L306.65,665.77 L307.04,666.20 L307.43,666.74 L307.82,666.55 L308.21,665.23 L308.59,665.70 L308.98,664.66 L309.37,665.49 L309.76,665.72 L310.15,665.33 L310.54,665.96 L310.93,665.91 L311.32,666.74 L311.71,666.08 L312.10,665.32 L312.49,665.91 L312.88,665.80 L313.27,666.10 L313.66,667.40 L314.04,665.28 L314.43,665.10 L314.82,664.86 L315.21,664.97 L315.60,665.17 L315.99,663.96 L316.38,665.71 L316.77,666.01 L317.16,666.28 L317.55,666.34 L317.94,665.82 L318.33,666.34 L318.72,667.08 L319.10,667.48 L319.49,666.77 L319.88,665.98 L320.27,665.51 L320.66,664.70 L321.05,665.44 L321.44,665.02 L321.83,664.92 L322.22,665.38 L322.61,666.06 L323.00,665.53 L323.39,666.12 L323.78,666.30 L324.16,666.85 L324.55,665.55 L324.94,665.75 L325.33,666.17 L325.72,666.31 L326.11,666.39 L326.50,666.26 L326.89,667.27 L327.28,667.65 L327.67,666.88 L328.06,665.98 L328.45,666.65 L328.84,666.42 L329.23,666.69 L329.61,667.93 L330.00,667.58 L330.39,667.82 L330.78,666.78 L331.17,666.71 L331.56,666.56 L331.95,667.34 L332.34,666.89 L332.73,667.87 L333.12,667.21 L333.51,666.04 L333.90,666.82 L334.29,666.09 L334.67,665.23 L335.06,665.63 L335.45,665.09 L335.84,665.36 L336.23,665.90 L336.62,667.21 L337.01,667.56 L337.40,668.05 L337.79,666.01 L338.18,665.89 L338.57,666.07 L338.96,666.93 L339.35,665.63 L339.73,666.50 L340.12,665.48 L340.51,665.00 L340.90,665.30 L341.29,665.96 L341.68,666.05 L342.07,666.89 L342.46,666.27 L342.85,665.19 L343.24,664.92 L343.63,664.64 L344.02,665.52 L344.41,665.52 L344.80,666.34 L345.18,666.56 L345.57,665.98 L345.96,664.48 L346.35,664.94 L346.74,665.28 L347.13,666.71 L347.52,666.43 L347.91,666.91 L348.30,667.55 L348.69,668.05 L349.08,667.39 L349.47,667.26 L349.86,666.51 L350.24,666.54 L350.63,666.43 L351.02,665.43 L351.41,665.15 L351.80,664.97 L352.19,664.41 L352.58,664.79 L352.97,665.81 L353.36,666.41 L353.75,667.30 L354.14,666.73 L354.53,666.81 L354.92,666.29 L355.30,665.73 L355.69,666.36 L356.08,666.18 L356.47,665.38 L356.86,665.56 L357.25,665.15 L357.64,665.57 L358.03,666.33 L358.42,666.42 L358.81,667.51 L359.20,666.66 L359.59,666.82 L359.98,665.78 L360.37,666.66 L360.75,666.42 L361.14,666.13 L361.53,666.26 L361.92,665.99 L362.31,666.50 L362.70,667.06 L363.09,667.66 L363.48,667.56 L363.87,667.64 L364.26,667.04 L364.65,667.00 L365.04,667.16 L365.43,667.31 L365.81,668.14 L366.20,667.77 L366.59,667.03 L366.98,667.59 L367.37,667.32 L367.76,666.54 L368.15,666.86" fill="none" stroke="#b07a7a" stroke-width="0.85" stroke-linejoin="round"/>
<path d="M212.45,662.91 L212.84,662.20 L213.23,662.63 L213.62,663.49 L214.01,664.31 L214.40,664.13 L214.79,664.72 L215.17,665.40 L215.56,664.78 L215.95,664.39 L216.34,663.84 L216.73,664.44 L217.12,664.24 L217.51,664.14 L217.90,665.05 L218.29,664.31 L218.68,663.93 L219.07,662.28 L219.46,662.59 L219.85,663.05 L220.24,662.43 L220.62,662.70 L221.01,662.41 L221.40,663.07 L221.79,663.14 L222.18,662.64 L222.57,662.51 L222.96,662.81 L223.35,663.83 L223.74,663.51 L224.13,663.54 L224.52,663.13 L224.91,663.18 L225.30,662.62 L225.68,663.00 L226.07,663.10 L226.46,662.85 L226.85,663.86 L227.24,664.11 L227.63,664.35 L228.02,662.84 L228.41,663.18 L228.80,662.92 L229.19,662.76 L229.58,663.26 L229.97,664.46 L230.36,663.60 L230.74,663.93 L231.13,663.40 L231.52,664.39 L231.91,664.50 L232.30,663.44 L232.69,662.57 L233.08,663.81 L233.47,664.70 L233.86,664.45 L234.25,663.76 L234.64,663.65 L235.03,663.48 L235.42,664.24 L235.81,663.70 L236.19,662.97 L236.58,663.50 L236.97,664.55 L237.36,664.83 L237.75,663.99 L238.14,665.10 L238.53,664.76 L238.92,665.13 L239.31,664.81 L239.70,664.66 L240.09,664.38 L240.48,663.18 L240.87,663.07 L241.25,662.38 L241.64,662.89 L242.03,663.47 L242.42,663.30 L242.81,665.35 L243.20,664.90 L243.59,664.44 L243.98,665.07 L244.37,664.36 L244.76,664.55 L245.15,665.96 L245.54,665.44 L245.93,665.59 L246.31,665.38 L246.70,664.99 L247.09,663.77 L247.48,663.68 L247.87,663.71 L248.26,663.45 L248.65,664.75 L249.04,663.60 L249.43,664.36 L249.82,663.87 L250.21,664.57 L250.60,664.97 L250.99,664.85 L251.38,663.22 L251.76,662.89 L252.15,663.53 L252.54,663.76 L252.93,664.50 L253.32,664.27 L253.71,664.47 L254.10,663.73 L254.49,664.61 L254.88,664.54 L255.27,664.83 L255.66,664.94 L256.05,664.05 L256.44,663.82 L256.82,663.35 L257.21,662.61 L257.60,662.11 L257.99,663.46 L258.38,663.11 L258.77,664.41 L259.16,664.17 L259.55,662.66 L259.94,663.02 L260.33,663.39 L260.72,663.28 L261.11,663.29 L261.50,663.29 L261.88,663.81 L262.27,662.93 L262.66,662.43 L263.05,662.82 L263.44,662.72 L263.83,662.41 L264.22,661.94 L264.61,662.02 L265.00,661.87 L265.39,662.39 L265.78,663.29 L266.17,663.52 L266.56,662.64 L266.94,662.04 L267.33,662.17 L267.72,662.72 L268.11,662.49 L268.50,661.41 L268.89,660.83 L269.28,661.78 L269.67,661.99 L270.06,663.07 L270.45,663.58 L270.84,663.02 L271.23,662.71 L271.62,661.83 L272.01,660.98 L272.39,660.64 L272.78,660.04 L273.17,660.84 L273.56,661.76 L273.95,661.26 L274.34,659.40 L274.73,659.61 L275.12,660.73 L275.51,660.52 L275.90,659.52 L276.29,660.42 L276.68,659.74 L277.07,660.15 L277.45,659.09 L277.84,658.59 L278.23,658.46 L278.62,657.12 L279.01,657.66 L279.40,658.07 L279.79,656.43 L280.18,656.88 L280.57,654.81 L280.96,654.47 L281.35,654.41 L281.74,653.06 L282.13,651.27 L282.51,649.05 L282.90,646.65 L283.29,642.80 L283.68,640.89 L284.07,636.64 L284.46,631.55 L284.85,624.49 L285.24,619.91 L285.63,613.30 L286.02,606.92 L286.41,599.91 L286.80,592.05 L287.19,584.88 L287.58,577.65 L287.96,572.82 L288.35,568.13 L288.74,563.97 L289.13,561.40 L289.52,562.38 L289.91,564.34 L290.30,569.04 L290.69,572.67 L291.08,578.65 L291.47,585.39 L291.86,592.21 L292.25,598.86 L292.64,605.02 L293.02,612.51 L293.41,619.60 L293.80,625.39 L294.19,631.65 L294.58,637.61 L294.97,640.89 L295.36,644.66 L295.75,646.80 L296.14,650.13 L296.53,654.03 L296.92,654.84 L297.31,655.67 L297.70,655.42 L298.09,656.07 L298.47,656.77 L298.86,657.16 L299.25,658.14 L299.64,658.59 L300.03,659.93 L300.42,659.67 L300.81,660.43 L301.20,660.78 L301.59,660.30 L301.98,659.86 L302.37,660.90 L302.76,659.64 L303.15,660.55 L303.53,660.27 L303.92,660.03 L304.31,660.38 L304.70,660.70 L305.09,659.86 L305.48,659.91 L305.87,660.28 L306.26,662.09 L306.65,662.66 L307.04,661.79 L307.43,661.86 L307.82,662.71 L308.21,663.11 L308.59,663.18 L308.98,662.58 L309.37,662.38 L309.76,661.84 L310.15,662.71 L310.54,662.11 L310.93,662.71 L311.32,663.00 L311.71,661.85 L312.10,662.18 L312.49,662.56 L312.88,662.89 L313.27,663.24 L313.66,662.19 L314.04,661.58 L314.43,661.61 L314.82,662.00 L315.21,661.70 L315.60,662.25 L315.99,662.29 L316.38,662.36 L316.77,662.62 L317.16,661.76 L317.55,661.09 L317.94,660.91 L318.33,662.98 L318.72,661.90 L319.10,661.92 L319.49,662.71 L319.88,662.98 L320.27,662.39 L320.66,661.96 L321.05,661.87 L321.44,662.29 L321.83,662.67 L322.22,662.39 L322.61,662.82 L323.00,663.67 L323.39,664.09 L323.78,664.05 L324.16,663.71 L324.55,662.17 L324.94,663.54 L325.33,663.26 L325.72,663.45 L326.11,663.32 L326.50,662.52 L326.89,662.04 L327.28,662.64 L327.67,663.34 L328.06,664.37 L328.45,664.22 L328.84,663.23 L329.23,663.56 L329.61,663.13 L330.00,662.83 L330.39,662.84 L330.78,662.37 L331.17,662.86 L331.56,663.68 L331.95,664.49 L332.34,663.64 L332.73,663.92 L333.12,664.08 L333.51,663.42 L333.90,664.05 L334.29,662.77 L334.67,662.61 L335.06,663.31 L335.45,663.87 L335.84,663.11 L336.23,664.10 L336.62,664.43 L337.01,664.23 L337.40,663.95 L337.79,663.88 L338.18,663.59 L338.57,663.89 L338.96,663.93 L339.35,663.03 L339.73,662.82 L340.12,663.41 L340.51,662.36 L340.90,664.12 L341.29,663.96 L341.68,663.45 L342.07,662.89 L342.46,663.08 L342.85,663.55 L343.24,663.22 L343.63,663.52 L344.02,663.27 L344.41,665.35 L344.80,664.62 L345.18,664.90 L345.57,663.93 L345.96,663.38 L346.35,663.01 L346.74,663.51 L347.13,663.30 L347.52,663.67 L347.91,663.56 L348.30,663.72 L348.69,664.32 L349.08,662.83 L349.47,662.62 L349.86,664.36 L350.24,663.58 L350.63,664.58 L351.02,664.50 L351.41,664.67 L351.80,664.77 L352.19,664.31 L352.58,664.37 L352.97,665.17 L353.36,664.76 L353.75,664.22 L354.14,662.89 L354.53,663.44 L354.92,664.34 L355.30,664.43 L355.69,663.79 L356.08,664.39 L356.47,664.69 L356.86,664.04 L357.25,663.97 L357.64,663.77 L358.03,664.19 L358.42,664.63 L358.81,664.59 L359.20,664.45 L359.59,664.48 L359.98,663.98 L360.37,663.55 L360.75,663.25 L361.14,663.09 L361.53,663.89 L361.92,664.61 L362.31,663.82 L362.70,663.80 L363.09,663.71 L363.48,664.52 L363.87,664.44 L364.26,664.67 L364.65,664.99 L365.04,665.05 L365.43,665.68 L365.81,665.05 L366.20,663.88 L366.59,664.33 L366.98,664.10 L367.37,664.74 L367.76,664.00 L368.15,662.68" fill="none" stroke="#7b9bd0" stroke-width="0.85" stroke-linejoin="round"/>
</svg>
</body></html>
